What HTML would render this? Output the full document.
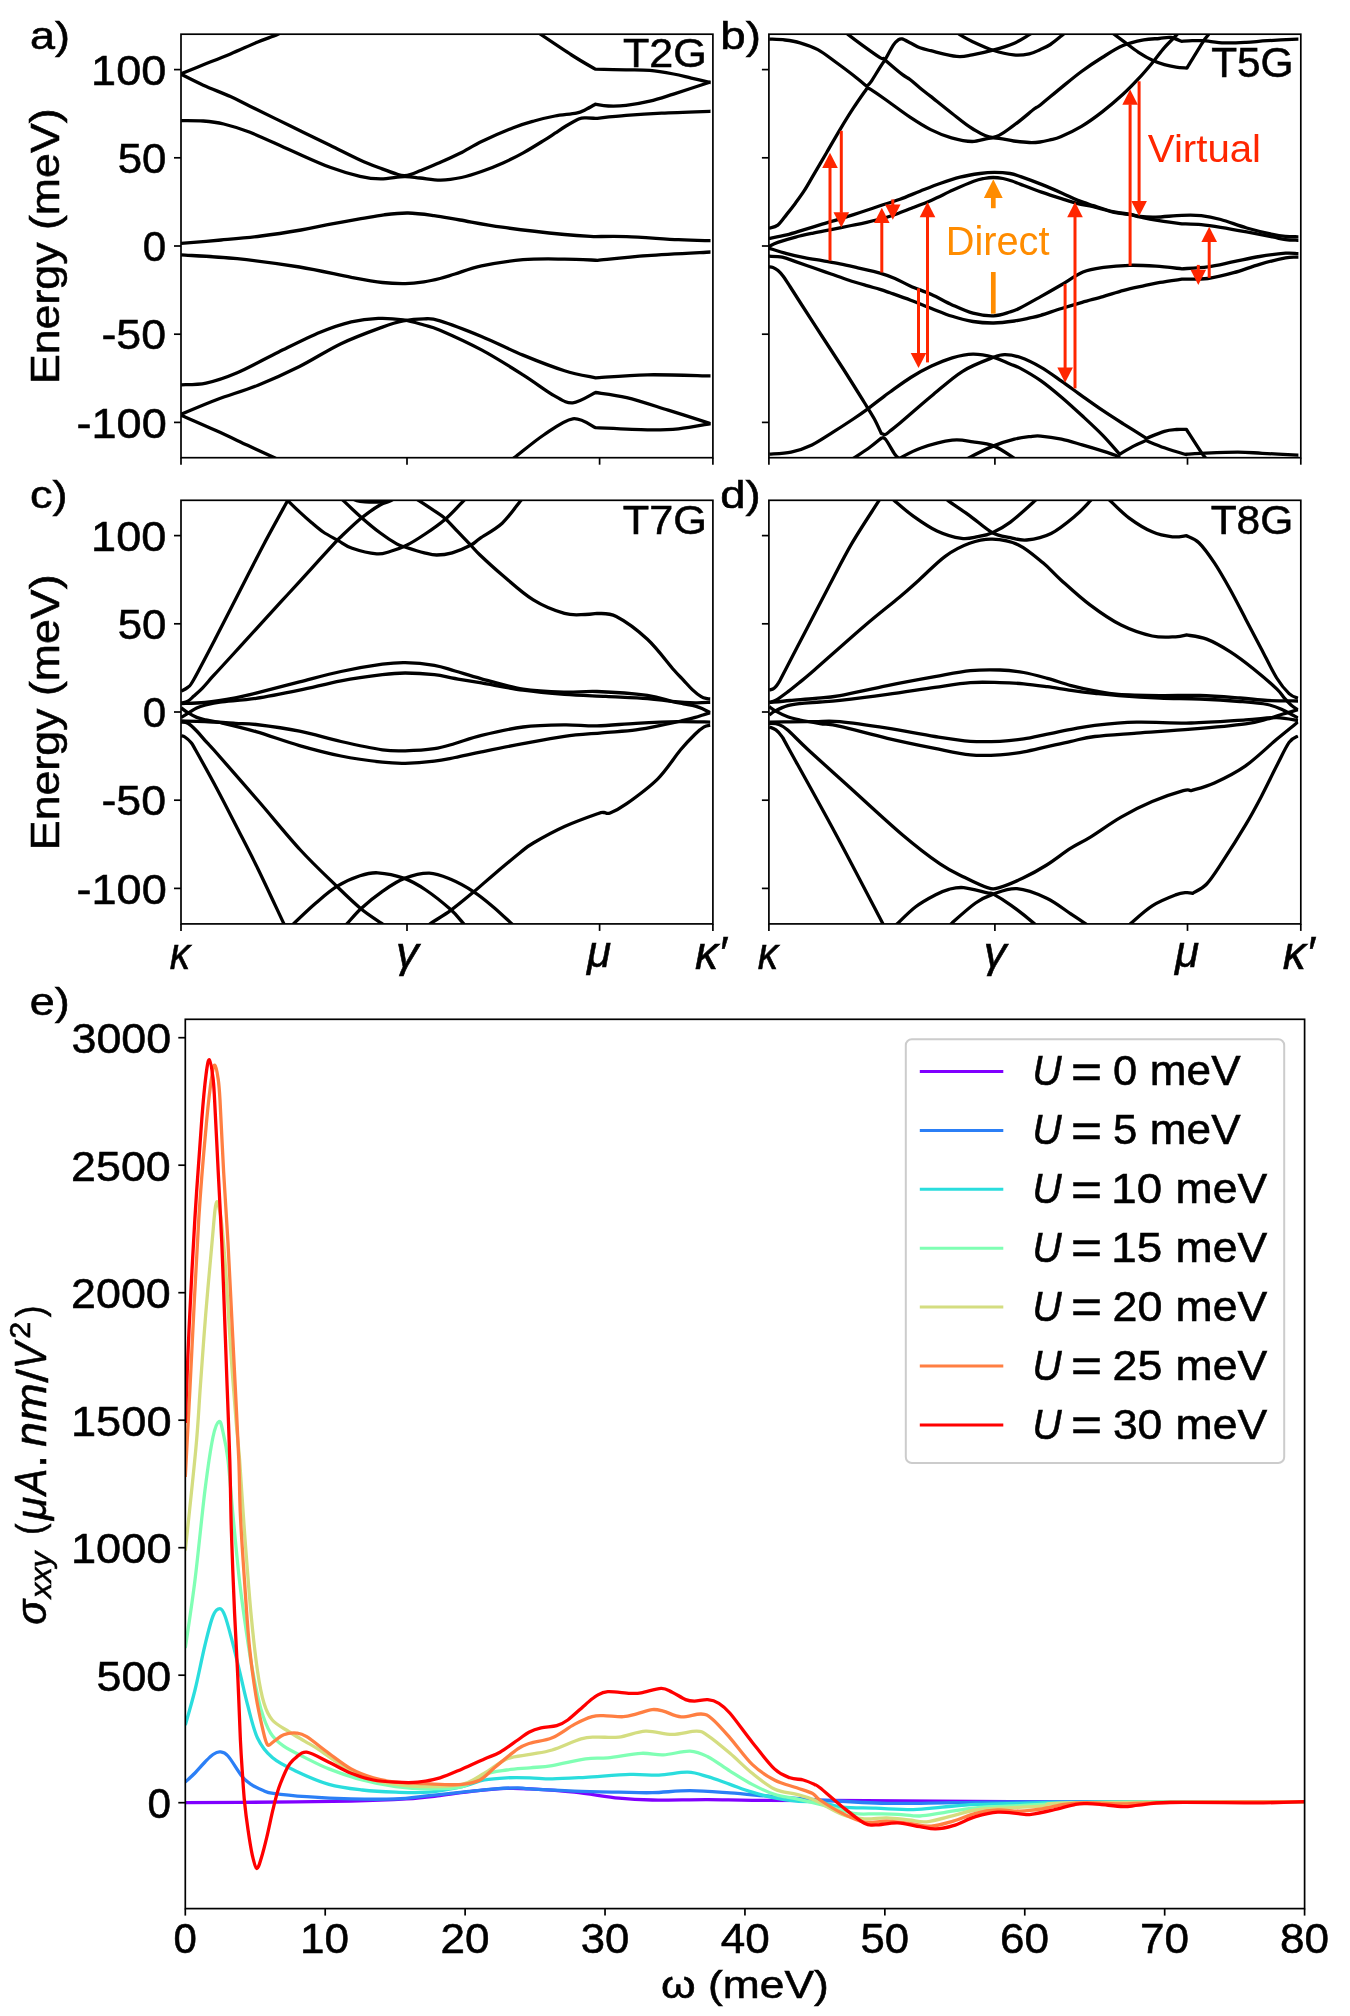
<!DOCTYPE html><html><head><meta charset="utf-8"><style>html,body{margin:0;padding:0;background:#fff;}svg{display:block;will-change:transform;font-family:"Liberation Sans",sans-serif;}</style></head><body><svg width="1350" height="2016" viewBox="0 0 1350 2016"><defs><clipPath id="ca"><rect x="181" y="34.2" width="529.5" height="423.5"/></clipPath><clipPath id="cb"><rect x="768.9" y="34.2" width="529.5" height="423.5"/></clipPath><clipPath id="cc"><rect x="181" y="500.3" width="529.5" height="423.6"/></clipPath><clipPath id="cd"><rect x="768.9" y="500.3" width="529.5" height="423.6"/></clipPath><clipPath id="ce"><rect x="185.3" y="1019.3" width="1119.3" height="889.3"/></clipPath></defs><g clip-path="url(#ca)" fill="none" stroke="#000" stroke-width="3.3" stroke-linejoin="round" stroke-linecap="butt"><path d="M181.2,73.6C184.88,72.13 195.08,68.08 203.3,64.8C211.52,61.52 221.42,57.7 230.5,53.9C239.58,50.1 249.97,45.23 257.8,42C265.63,38.77 272.13,36.83 277.5,34.5C282.87,32.17 287.92,29.08 290,28"/><path d="M181.2,74.3C184.88,76.12 195.08,81.48 203.3,85.2C211.52,88.92 222.72,93.1 230.5,96.6C238.28,100.1 240.08,101.33 250,106.2C259.92,111.07 276.67,119.28 290,125.8C303.33,132.32 318.33,139.6 330,145.3C341.67,151 351.3,156.07 360,160C368.7,163.93 375.87,166.48 382.2,168.9C388.53,171.32 394.3,173.38 398,174.5C401.7,175.62 402.23,175.63 404.4,175.6C406.57,175.57 408.4,175.1 411,174.3C413.6,173.5 415.17,172.77 420,170.8C424.83,168.83 433.33,165.42 440,162.5C446.67,159.58 452.97,156.85 460,153.3C467.03,149.75 473.32,145.47 482.2,141.2C491.08,136.93 504.65,131.07 513.3,127.7C521.95,124.33 527.15,122.95 534.1,121C541.05,119.05 547.97,117.32 555,116C562.03,114.68 571.17,114.18 576.3,113.1C581.43,112.02 582.63,110.98 585.8,109.5C588.97,108.02 593.72,105.08 595.3,104.2C597.47,104.5 603.17,105.8 608.3,106C613.43,106.2 619.18,106.2 626.1,105.4C633.02,104.6 641.9,103.08 649.8,101.2C657.7,99.32 663.52,97.25 673.5,94.1C683.48,90.95 702.62,84.57 709.7,82.3C716.78,80.03 714.95,80.8 716,80.5"/><path d="M181.2,120.6C184.88,120.67 196.22,120.43 203.3,121C210.38,121.57 215.92,122.12 223.7,124C231.48,125.88 238.95,127.97 250,132.3C261.05,136.63 276.67,144.17 290,150C303.33,155.83 318.33,162.92 330,167.3C341.67,171.68 351.55,174.37 360,176.3C368.45,178.23 373.3,178.85 380.7,178.9C388.1,178.95 397.85,176.75 404.4,176.6C410.95,176.45 413.95,177.42 420,178C426.05,178.58 433.78,180.18 440.7,180.1C447.62,180.02 454.58,178.97 461.5,177.5C468.42,176.03 475.28,173.72 482.2,171.3C489.12,168.88 496.08,166.12 503,163C509.92,159.88 516.8,156.42 523.7,152.6C530.6,148.78 539.18,143.33 544.4,140.1C549.62,136.87 551.4,135.55 555,133.2C558.6,130.85 562.05,128.37 566,126C569.95,123.63 575.4,120.37 578.7,119C582,117.63 583.03,117.9 585.8,117.8C588.57,117.7 593.72,118.3 595.3,118.4C600.43,117.9 615.03,116.28 626.1,115.4C637.17,114.52 647.77,113.78 661.7,113.1C675.63,112.42 700.65,111.62 709.7,111.3C718.75,110.98 714.95,111.22 716,111.2"/><path d="M530,27.2C536.93,31.83 560.72,48 571.6,55C582.48,62 591.35,66.83 595.3,69.2C600.43,69.3 617.02,69.6 626.1,69.8C635.18,70 641.9,69.7 649.8,70.4C657.7,71.1 666.58,72.72 673.5,74C680.42,75.28 685.27,76.72 691.3,78.1C697.33,79.48 705.58,81.35 709.7,82.3C713.82,83.25 714.95,83.55 716,83.8"/><path d="M181,243.3C187.67,242.75 207.67,241.22 221,240C234.33,238.78 247.67,237.67 261,236C274.33,234.33 289.88,231.88 301,230C312.12,228.12 317.7,226.58 327.7,224.7C337.7,222.82 351.62,220.35 361,218.7C370.38,217.05 376.15,215.75 384,214.8C391.85,213.85 399.77,212.87 408.1,213C416.43,213.13 425.35,214.43 434,215.6C442.65,216.77 448.63,218.07 460,220C471.37,221.93 484.78,224.78 502.2,227.2C519.62,229.62 548.93,232.93 564.5,234.5C580.07,236.07 590.42,236.25 595.6,236.6C600.78,236.6 612.88,236.08 626.7,236.6C640.52,237.12 664.5,239.02 678.5,239.7C692.5,240.38 704.45,240.52 710.7,240.7C716.95,240.88 715.12,240.78 716,240.8"/><path d="M181.2,254.9C190.53,255.53 217.48,256.68 237.2,258.7C256.92,260.72 280.48,263.9 299.5,267C318.52,270.1 337.48,274.72 351.3,277.3C365.12,279.88 373.42,281.45 382.4,282.5C391.38,283.55 398.28,283.7 405.2,283.6C412.12,283.5 418.1,282.75 423.9,281.9C429.7,281.05 434.82,279.82 440,278.5C445.18,277.18 448.08,276.1 455,274C461.92,271.9 470.17,268.28 481.5,265.9C492.83,263.52 509.17,260.83 523,259.7C536.83,258.57 552.07,259 564.5,259.1C576.93,259.2 592.08,260.1 597.6,260.3C605.9,259.52 628.55,256.98 647.4,255.6C666.25,254.22 699.27,252.63 710.7,252C722.13,251.37 715.12,251.83 716,251.8"/><path d="M181.2,384.8C185.35,384.52 196.77,385.1 206.1,383.1C215.43,381.1 225.1,377.98 237.2,372.8C249.3,367.62 264.87,358.75 278.7,352C292.53,345.25 308.1,337.32 320.2,332.3C332.3,327.28 341.62,324.22 351.3,321.9C360.98,319.58 369.65,318.73 378.3,318.4C386.95,318.07 395.6,318.8 403.2,319.9C410.8,321 417.77,323.28 423.9,325C430.03,326.72 430.4,326.05 440,330.2C449.6,334.35 467.67,342.47 481.5,349.9C495.33,357.33 510.9,367.18 523,374.8C535.1,382.42 545.8,390.93 554.1,395.6C562.4,400.27 565.88,403.32 572.8,402.8C579.72,402.28 591.8,394.22 595.6,392.5C600.78,393.35 614.6,394.67 626.7,397.6C638.8,400.53 654.2,405.77 668.2,410.1C682.2,414.43 702.73,421.07 710.7,423.6C718.67,426.13 715.12,425.02 716,425.3"/><path d="M181.2,414.2C187.08,411.78 203.7,404.53 216.5,399.7C229.3,394.87 244.17,390.73 258,385.2C271.83,379.67 285.67,373.42 299.5,366.5C313.33,359.58 327.18,350.27 341,343.7C354.82,337.13 372.03,330.9 382.4,327.1C392.77,323.3 396.28,322.28 403.2,320.9C410.12,319.52 417.77,318.8 423.9,318.8C430.03,318.8 430.4,317.95 440,320.9C449.6,323.85 467.67,330.8 481.5,336.5C495.33,342.2 509.17,349.4 523,355.1C536.83,360.8 552.4,366.9 564.5,370.7C576.6,374.5 590.42,376.7 595.6,377.9C604.23,377.38 628.22,375.13 647.4,374.8C666.58,374.47 699.27,375.7 710.7,375.9C722.13,376.1 715.12,375.98 716,376"/><path d="M181.2,415.3C187.08,417.88 205.43,425.8 216.5,430.8C227.57,435.8 237.92,440.8 247.6,445.3C257.28,449.8 268.87,455.1 274.6,457.8C280.33,460.5 280.77,460.88 282,461.5"/><path d="M508,462C509.12,461.23 508.75,461.9 514.7,457.4C520.65,452.9 534.02,441.43 543.7,435C553.38,428.57 564.15,420.02 572.8,418.8C581.45,417.58 591.8,426.22 595.6,427.7C604.23,428.05 633.58,429.62 647.4,429.8C661.22,429.98 667.95,429.83 678.5,428.8C689.05,427.77 704.45,424.65 710.7,423.6C716.95,422.55 715.12,422.68 716,422.5"/></g><g clip-path="url(#cb)" fill="none" stroke="#000" stroke-width="3.3" stroke-linejoin="round" stroke-linecap="butt"><path d="M769.3,39.1C771.92,39.25 779.88,39.38 785,40C790.12,40.62 794.53,41.2 800,42.8C805.47,44.4 811.87,46.4 817.8,49.6C823.73,52.8 829.68,57.72 835.6,62C841.52,66.28 848.12,71.25 853.3,75.3C858.48,79.35 864.47,84.47 866.7,86.3C867.43,85.52 868.88,84.77 871.1,81.6C873.32,78.43 877.63,71.02 880,67.3C882.37,63.58 883.08,63 885.3,59.3C887.52,55.6 891.18,48.28 893.3,45.1C895.42,41.92 896.55,41.23 898,40.2C899.45,39.17 899.82,38.38 902,38.9C904.18,39.42 908.1,41.82 911.1,43.3C914.1,44.78 916.73,46.57 920,47.8C923.27,49.03 924.58,49.27 930.7,50.7C936.82,52.13 949.78,55.7 956.7,56.4C963.62,57.1 966.15,55.93 972.2,54.9C978.25,53.87 986.08,52.1 993,50.2C999.92,48.3 1007.65,46.08 1013.7,43.5C1019.75,40.92 1025.75,36.78 1029.3,34.7C1032.85,32.62 1034.05,31.62 1035,31"/><path d="M768.9,228.2C770.38,227.68 774.83,227.4 777.8,225.1C780.77,222.8 783.73,218.1 786.7,214.4C789.67,210.7 792.65,206.9 795.6,202.9C798.55,198.9 801.45,195 804.4,190.4C807.35,185.8 809.58,181.62 813.3,175.3C817.02,168.98 822.25,160.12 826.7,152.5C831.15,144.88 835.57,136.98 840,129.6C844.43,122.22 848.85,115.02 853.3,108.2C857.75,101.38 864.47,91.95 866.7,88.7C867.43,88.85 867.4,87.38 871.1,89.6C874.8,91.82 882.42,97.42 888.9,102C895.38,106.58 903.03,112.5 910,117.1C916.97,121.7 923.78,126.13 930.7,129.6C937.62,133.07 944.58,135.92 951.5,137.9C958.42,139.88 965.28,141.5 972.2,141.5C979.12,141.5 986.08,137.98 993,137.9C999.92,137.82 1007.65,140.23 1013.7,141C1019.75,141.77 1024.92,142.33 1029.3,142.5C1033.68,142.67 1036.55,142.43 1040,142C1043.45,141.57 1046.55,140.77 1050,139.9C1053.45,139.03 1055.45,139.05 1060.7,136.8C1065.95,134.55 1074.58,130.55 1081.5,126.4C1088.42,122.25 1095.28,117.25 1102.2,111.9C1109.12,106.55 1116.95,99.83 1123,94.3C1129.05,88.77 1133.67,83.88 1138.5,78.7C1143.33,73.52 1147.68,68.38 1152,63.2C1156.32,58.02 1160.25,52.35 1164.4,47.6C1168.55,42.85 1174.3,37.47 1176.9,34.7C1179.5,31.93 1179.48,31.62 1180,31"/><path d="M843,30C843.83,30.73 844.8,31.88 848,34.4C851.2,36.92 856.87,41.23 862.2,45.1C867.53,48.97 876.37,55.35 880,57.6C883.63,59.85 883.33,58.43 884,58.6C884.22,58.87 882.27,57.57 885.3,60.2C888.33,62.83 898.08,71.18 902.2,74.4C906.32,77.62 907.03,77.23 910,79.5C912.97,81.77 916.55,85.18 920,88C923.45,90.82 925.45,92.23 930.7,96.4C935.95,100.57 944.58,107.65 951.5,113C958.42,118.35 965.28,124.45 972.2,128.5C979.12,132.55 986.08,137.82 993,137.3C999.92,136.78 1006.8,130.15 1013.7,125.4C1020.6,120.65 1030.02,112.17 1034.4,108.8C1038.78,105.43 1035.62,108.65 1040,105.2C1044.38,101.75 1053.78,93.72 1060.7,88.1C1067.62,82.48 1074.58,76.6 1081.5,71.5C1088.42,66.4 1095.28,61.82 1102.2,57.5C1109.12,53.18 1116.08,48.53 1123,45.6C1129.92,42.67 1137.65,41.08 1143.7,39.9C1149.75,38.72 1154.8,38.9 1159.3,38.5C1163.8,38.1 1167,37.03 1170.7,37.5C1174.4,37.97 1179.7,40.67 1181.5,41.3C1183.28,41.2 1188.62,40.8 1192.2,40.7C1195.78,40.6 1197.63,40.33 1203,40.7C1208.37,41.07 1217.23,42.62 1224.4,42.9C1231.57,43.18 1238.83,42.77 1246,42.4C1253.17,42.03 1258.82,41.25 1267.4,40.7C1275.98,40.15 1291.4,39.38 1297.5,39.1C1303.6,38.82 1302.92,39.02 1304,39"/><path d="M955,30C955.8,30.78 956.93,32.8 959.8,34.7C962.67,36.6 966.67,38.82 972.2,41.4C977.73,43.98 986.08,47.95 993,50.2C999.92,52.45 1007.65,54.28 1013.7,54.9C1019.75,55.52 1024.92,54.77 1029.3,53.9C1033.68,53.03 1036.48,51.27 1040,49.7C1043.52,48.13 1046.6,47 1050.4,44.5C1054.2,42 1060.03,36.95 1062.8,34.7C1065.57,32.45 1066.3,31.62 1067,31"/><path d="M1110,31C1110.78,31.62 1112.2,32.8 1114.7,34.7C1117.2,36.6 1121.03,39.47 1125,42.4C1128.97,45.33 1133.83,49.27 1138.5,52.3C1143.17,55.33 1148.68,58.53 1153,60.6C1157.32,62.67 1160.55,63.62 1164.4,64.7C1168.25,65.78 1172.35,66.53 1176.1,67.1C1179.85,67.67 1185.1,67.93 1186.9,68.1C1189.58,63.72 1199.43,47.35 1203,41.8C1206.57,36.25 1206.97,36.77 1208.3,34.8C1209.63,32.83 1210.55,30.8 1211,30"/><path d="M768.9,238.4C771.87,237.82 780.78,236.37 786.7,234.9C792.62,233.43 798.48,231.38 804.4,229.6C810.32,227.82 816.27,225.98 822.2,224.2C828.13,222.42 833.7,220.85 840,218.9C846.3,216.95 853.33,214.68 860,212.5C866.67,210.32 873.33,208.02 880,205.8C886.67,203.58 893.33,201.63 900,199.2C906.67,196.77 913.33,193.82 920,191.2C926.67,188.58 933.33,185.83 940,183.5C946.67,181.17 953.33,178.87 960,177.2C966.67,175.53 974.27,174.3 980,173.5C985.73,172.7 989.4,172.4 994.4,172.4C999.4,172.4 1005.62,172.8 1010,173.5C1014.38,174.2 1015.45,174.78 1020.7,176.6C1025.95,178.42 1034.58,181.63 1041.5,184.4C1048.42,187.17 1056.15,190.53 1062.2,193.2C1068.25,195.87 1072.62,198.33 1077.8,200.4C1082.98,202.47 1087.25,203.68 1093.3,205.6C1099.35,207.52 1107.98,210.47 1114.1,211.9C1120.22,213.33 1125.68,213.43 1130,214.2C1134.32,214.97 1135.68,216 1140,216.5C1144.32,217 1148.92,217.4 1155.9,217.2C1162.88,217 1174.33,215.57 1181.9,215.3C1189.47,215.03 1194.83,214.9 1201.3,215.6C1207.77,216.3 1213.13,217.43 1220.7,219.5C1228.27,221.57 1238.05,225.52 1246.7,228C1255.35,230.48 1266.12,233 1272.6,234.4C1279.08,235.8 1281.38,236 1285.6,236.4C1289.82,236.8 1294.83,236.73 1297.9,236.8C1300.97,236.87 1302.98,236.8 1304,236.8"/><path d="M768.9,246.4C770.38,245.73 773.35,243.95 777.8,242.4C782.25,240.85 789.68,238.65 795.6,237.1C801.52,235.55 807.38,234.35 813.3,233.1C819.22,231.85 825.17,230.78 831.1,229.6C837.03,228.42 842.97,227.2 848.9,226C854.83,224.8 859.73,224.07 866.7,222.4C873.67,220.73 883.23,218.37 890.7,216C898.17,213.63 904.58,210.88 911.5,208.2C918.42,205.52 925.28,202.92 932.2,199.9C939.12,196.88 946.08,193.2 953,190.1C959.92,187 968.53,183.23 973.7,181.3C978.87,179.37 980.73,179.13 984,178.5C987.27,177.87 990.13,177.5 993.3,177.5C996.47,177.5 999.88,177.92 1003,178.5C1006.12,179.08 1009.05,180.02 1012,181C1014.95,181.98 1015.78,182.55 1020.7,184.4C1025.62,186.25 1034.58,189.68 1041.5,192.1C1048.42,194.52 1056.15,196.98 1062.2,198.9C1068.25,200.82 1072.62,202.3 1077.8,203.6C1082.98,204.9 1087.25,205.23 1093.3,206.7C1099.35,208.17 1107.98,211.08 1114.1,212.4C1120.22,213.72 1125.68,213.83 1130,214.6C1134.32,215.37 1135.68,216.07 1140,217C1144.32,217.93 1148.92,219.07 1155.9,220.2C1162.88,221.33 1177.57,223.2 1181.9,223.8C1185.13,223.95 1194.83,224.12 1201.3,224.7C1207.77,225.28 1213.13,226.1 1220.7,227.3C1228.27,228.5 1238.05,230.28 1246.7,231.9C1255.35,233.52 1266.12,235.72 1272.6,237C1279.08,238.28 1281.38,239.05 1285.6,239.6C1289.82,240.15 1294.83,240.17 1297.9,240.3C1300.97,240.43 1302.98,240.38 1304,240.4"/><path d="M768.9,248.2C771.87,249.1 780.78,252.03 786.7,253.6C792.62,255.17 798.48,256.42 804.4,257.6C810.32,258.78 816.27,259.67 822.2,260.7C828.13,261.73 834.07,262.62 840,263.8C845.93,264.98 851.13,266.25 857.8,267.8C864.47,269.35 873.8,271.32 880,273.1C886.2,274.88 889.88,276.32 895,278.5C900.12,280.68 904.62,283.53 910.7,286.2C916.78,288.87 924.58,291.38 931.5,294.5C938.42,297.62 945.28,301.78 952.2,304.9C959.12,308.02 966.08,311.38 973,313.2C979.92,315.02 987.53,316 993.7,315.8C999.87,315.6 1005.62,313.3 1010,312C1014.38,310.7 1014.88,310.57 1020,308C1025.12,305.43 1033.78,300.48 1040.7,296.6C1047.62,292.72 1054.45,288.8 1061.5,284.7C1068.55,280.6 1075.97,274.9 1083,272C1090.03,269.1 1095.93,268.42 1103.7,267.3C1111.47,266.18 1120.9,265.48 1129.6,265.3C1138.3,265.12 1147.18,265.62 1155.9,266.2C1164.62,266.78 1177.57,268.37 1181.9,268.8C1186.22,268.48 1199.17,268.08 1207.8,266.9C1216.43,265.72 1225.07,263.43 1233.7,261.7C1242.33,259.97 1250.95,257.92 1259.6,256.5C1268.25,255.08 1279.22,253.68 1285.6,253.2C1291.98,252.72 1294.83,253.53 1297.9,253.6C1300.97,253.67 1302.98,253.6 1304,253.6"/><path d="M768.9,256.2C771.12,256.35 777.75,256.2 782.2,257.1C786.65,258 790.42,259.82 795.6,261.6C800.78,263.38 807.38,265.73 813.3,267.8C819.22,269.87 825.17,271.93 831.1,274C837.03,276.07 842.97,278.27 848.9,280.2C854.83,282.13 861.52,284.07 866.7,285.6C871.88,287.13 876.12,288.2 880,289.4C883.88,290.6 884.88,291 890,292.8C895.12,294.6 903.78,297.58 910.7,300.2C917.62,302.82 924.58,305.82 931.5,308.5C938.42,311.18 945.28,314.13 952.2,316.3C959.12,318.47 966.08,320.38 973,321.5C979.92,322.62 986.8,323.08 993.7,323C1000.6,322.92 1008.35,321.85 1014.4,321C1020.45,320.15 1025.62,318.85 1030,317.9C1034.38,316.95 1035.45,316.87 1040.7,315.3C1045.95,313.73 1054.58,310.67 1061.5,308.5C1068.42,306.33 1075.28,304.28 1082.2,302.3C1089.12,300.32 1096.08,298.58 1103,296.6C1109.92,294.62 1116.8,292.22 1123.7,290.4C1130.6,288.58 1138.35,287.03 1144.4,285.7C1150.45,284.37 1153.75,283.48 1160,282.4C1166.25,281.32 1178.25,279.73 1181.9,279.2C1186.22,279.08 1199.17,279.58 1207.8,278.5C1216.43,277.42 1225.07,275.07 1233.7,272.7C1242.33,270.33 1250.95,266.78 1259.6,264.3C1268.25,261.82 1279.22,259 1285.6,257.8C1291.98,256.6 1294.83,257.23 1297.9,257.1C1300.97,256.97 1302.98,257.02 1304,257"/><path d="M768.9,266.9C769.58,267 771.48,266.9 773,267.5C774.52,268.1 776.33,269.08 778,270.5C779.67,271.92 781,273.33 783,276C785,278.67 786.92,281.75 790,286.5C793.08,291.25 796.13,296.17 801.5,304.5C806.87,312.83 815.28,325.83 822.2,336.5C829.12,347.17 836.08,357.67 843,368.5C849.92,379.33 858.52,393.17 863.7,401.5C868.88,409.83 871.17,413.17 874.1,418.5C877.03,423.83 880.1,431 881.3,433.5C882,433.67 884.05,434.92 885.5,434.5C886.95,434.08 887.58,432.9 890,431C892.42,429.1 893.08,428.92 900,423.1C906.92,417.28 921.07,404.73 931.5,396.1C941.93,387.47 952.23,377.77 962.6,371.3C972.97,364.83 986.62,360.07 993.7,357.3C1000.78,354.53 1000.72,354.7 1005.1,354.7C1009.48,354.7 1014.07,355.23 1020,357.3C1025.93,359.37 1033.78,363.13 1040.7,367.1C1047.62,371.07 1054.58,376.27 1061.5,381.1C1068.42,385.93 1075.28,391.17 1082.2,396.1C1089.12,401.03 1096.08,406.03 1103,410.7C1109.92,415.37 1116.45,419.5 1123.7,424.1C1130.95,428.7 1142.7,435.93 1146.5,438.3C1149.48,437.13 1159.37,432.77 1164.4,431.3C1169.43,429.83 1173.02,429.8 1176.7,429.5C1180.38,429.2 1184.87,429.5 1186.5,429.5C1188.93,433.27 1198.05,447.52 1201.1,452.1C1204.15,456.68 1203.82,455.6 1204.8,457C1205.78,458.4 1206.63,459.92 1207,460.5"/><path d="M769.3,454.2C772.93,453.85 784,453.65 791.1,452.1C798.2,450.55 804.98,448.18 811.9,444.9C818.82,441.62 825.7,436.72 832.6,432.4C839.5,428.08 847.6,422.8 853.3,419C859,415.2 861.62,413.42 866.8,409.6C871.98,405.78 880.53,399.03 884.4,396.1C888.27,393.17 885.62,395.1 890,392C894.38,388.9 903.78,381.82 910.7,377.5C917.62,373.18 924.58,369.38 931.5,366.1C938.42,362.82 945.28,359.8 952.2,357.8C959.12,355.8 966.08,354.18 973,354.1C979.92,354.02 987.53,355.65 993.7,357.3C999.87,358.95 1005.62,362.2 1010,364C1014.38,365.8 1014.88,365.33 1020,368.1C1025.12,370.87 1033.78,375.75 1040.7,380.6C1047.62,385.45 1054.58,391.33 1061.5,397.2C1068.42,403.07 1075.28,409.4 1082.2,415.8C1089.12,422.2 1096.77,429.2 1103,435.6C1109.23,442 1116.83,451.1 1119.6,454.2C1122.02,452.82 1129.7,448.18 1134.1,445.9C1138.5,443.62 1144.02,441.4 1146,440.5C1149.07,441.72 1158.07,445.55 1164.4,447.8C1170.73,450.05 1180.32,452.93 1184,454C1187.68,455.07 1186.08,454.17 1186.5,454.2C1188.93,454.05 1192.55,453.65 1201.1,453.3C1209.65,452.95 1227.62,452.1 1237.8,452.1C1247.98,452.1 1252.22,452.78 1262.2,453.3C1272.18,453.82 1290.73,454.87 1297.7,455.2C1304.67,455.53 1302.95,455.28 1304,455.3"/><path d="M850,461C850.55,460.57 850.15,460.57 853.3,458.4C856.45,456.23 864.23,451.38 868.9,448C873.57,444.62 879.23,439.75 881.3,438.1C882,438.28 883.25,436.52 885.5,439.2C887.75,441.88 892.55,451 894.8,454.2C897.05,457.4 897.97,457.27 899,458.4C900.03,459.53 900.67,460.57 901,461"/><path d="M896,461C896.55,460.57 895.12,460.57 899.3,458.4C903.48,456.23 912.28,451.03 921.1,448C929.92,444.97 943.55,441.23 952.2,440.2C960.85,439.17 966.08,440.85 973,441.8C979.92,442.75 986.8,443.13 993.7,445.9C1000.6,448.67 1010.52,455.88 1014.4,458.4C1018.28,460.92 1016.57,460.57 1017,461"/><path d="M965,461C965.47,460.57 963.02,460.92 967.8,458.4C972.58,455.88 985.93,449.1 993.7,445.9C1001.47,442.7 1008.35,440.75 1014.4,439.2C1020.45,437.65 1025.62,437.12 1030,436.6C1034.38,436.08 1035.45,435.67 1040.7,436.1C1045.95,436.53 1054.58,437.73 1061.5,439.2C1068.42,440.67 1075.28,442.92 1082.2,444.9C1089.12,446.88 1097.47,449.37 1103,451.1C1108.53,452.83 1112.57,454.15 1115.4,455.3C1118.23,456.45 1119.23,457.55 1120,458"/></g><g clip-path="url(#cc)" fill="none" stroke="#000" stroke-width="3.3" stroke-linejoin="round" stroke-linecap="butt"><path d="M181.3,691C182.4,690.37 185.82,689.12 187.9,687.2C189.98,685.28 189.02,687.98 193.8,679.5C198.58,671.02 208.85,651.2 216.6,636.3C224.35,621.4 232.4,605.5 240.3,590.1C248.2,574.7 256.1,558.83 264,543.9C271.9,528.97 283.75,507.73 287.7,500.5C289.67,502.4 295.55,508.23 299.5,511.9C303.45,515.57 307.45,519.15 311.4,522.5C315.35,525.85 318.72,528.98 323.2,532C327.68,535.02 333.47,537.88 338.3,540.6C343.13,543.32 345.8,546.08 352.2,548.3C358.6,550.52 370.4,553.37 376.7,553.9C383,554.43 385.18,552.85 390,551.5C394.82,550.15 399.87,548.63 405.6,545.8C411.33,542.97 417.73,538.98 424.4,534.5C431.07,530.02 439.12,524.47 445.6,518.9C452.08,513.33 459.9,504.58 463.3,501.1C466.7,497.62 465.55,498.52 466,498"/><path d="M340,497C340.55,497.6 339.78,497.23 343.3,500.6C346.82,503.97 354.98,511.83 361.1,517.2C367.22,522.57 374.07,528.35 380,532.8C385.93,537.25 392.43,541.5 396.7,543.9C400.97,546.3 400.98,545.72 405.6,547.2C410.22,548.68 419.22,551.5 424.4,552.8C429.58,554.1 432.07,555 436.7,555C441.33,555 446.47,554.47 452.2,552.8C457.93,551.13 466.47,547.42 471.1,545C475.73,542.58 474.82,541.93 480,538.3C485.18,534.67 495.38,529.52 502.2,523.2C509.02,516.88 517.27,504.77 520.9,500.4C524.53,496.03 523.48,497.57 524,497"/><path d="M350,498C351.12,498.43 354.2,499.97 356.7,500.6C359.2,501.23 362.05,501.53 365,501.8C367.95,502.07 371.35,502.28 374.4,502.2C377.45,502.12 380.53,501.75 383.3,501.3C386.07,500.85 389.72,499.8 391,499.5"/><path d="M181.3,703.2C182.4,702.85 185.82,702.28 187.9,701.1C189.98,699.92 191.33,698.32 193.8,696.1C196.27,693.88 199.73,690.87 202.7,687.8C205.67,684.73 208.93,680.67 211.6,677.7C214.27,674.73 213.92,675.22 218.7,670C223.48,664.78 232.75,654.67 240.3,646.4C247.85,638.13 256.1,629.05 264,620.4C271.9,611.75 279.8,603.13 287.7,594.5C295.6,585.87 303.5,577.23 311.4,568.6C319.3,559.97 330.17,548.02 335.1,542.7C340.03,537.38 336.67,540.77 341,536.7C345.33,532.63 354.6,523.58 361.1,518.3C367.6,513.02 375,507.95 380,505C385,502.05 386.93,502.77 391.1,500.6C395.27,498.43 400.37,492 405,492C409.63,492 413.8,497.32 418.9,500.6C424,503.88 431.15,508.65 435.6,511.7C440.05,514.75 441.9,515.57 445.6,518.9C449.3,522.23 453.73,527.45 457.8,531.7C461.87,535.95 466.3,540.52 470,544.4C473.7,548.28 474.63,549.9 480,555C485.37,560.1 493.32,567.52 502.2,575C511.08,582.48 522.92,593.5 533.3,599.9C543.68,606.3 555.85,610.97 564.5,613.4C573.15,615.83 579.78,614.5 585.2,614.5C590.62,614.5 595.03,613.58 597,613.4C600.22,613.92 607.9,612.18 616.3,616.5C624.7,620.82 637.8,630.38 647.4,639.3C657,648.22 667.9,663.2 673.9,670C679.9,676.8 680.33,676.83 683.4,680.1C686.47,683.37 689.33,686.83 692.3,689.6C695.27,692.37 698.73,695.18 701.2,696.7C703.67,698.22 705.57,698.32 707.1,698.7C708.63,699.08 709.85,698.95 710.4,699"/><path d="M181.3,703.5C185.25,703.33 196,703.43 205,702.5C214,701.57 226.8,699.47 235.3,697.9C243.8,696.33 245.3,695.77 256,693.1C266.7,690.43 285.33,685.5 299.5,681.9C313.67,678.3 327.18,674.45 341,671.5C354.82,668.55 371.7,665.68 382.4,664.2C393.1,662.72 396.55,662.42 405.2,662.6C413.85,662.78 426,663.9 434.3,665.3C442.6,666.7 447.13,668.75 455,671C462.87,673.25 470.17,675.78 481.5,678.8C492.83,681.82 509.17,686.87 523,689.1C536.83,691.33 552.17,691.8 564.5,692.2C576.83,692.6 583.18,690.97 597,691.5C610.82,692.03 634.97,693.75 647.4,695.4C659.83,697.05 665.6,700 671.6,701.4C677.6,702.8 679.45,703.02 683.4,703.8C687.35,704.58 692.03,705.23 695.3,706.1C698.57,706.97 700.48,707.9 703,709C705.52,710.1 709.17,712.08 710.4,712.7"/><path d="M181.3,717.4C182.4,716.72 185.33,714.88 187.9,713.3C190.47,711.72 193.75,709.28 196.7,707.9C199.65,706.52 201.72,705.98 205.6,705C209.48,704.02 211.6,703.1 220,702C228.4,700.9 242.75,700.37 256,698.4C269.25,696.43 285.33,693.13 299.5,690.2C313.67,687.27 327.18,683.4 341,680.8C354.82,678.2 371.7,675.9 382.4,674.6C393.1,673.3 396.55,673 405.2,673C413.85,673 426,673.68 434.3,674.6C442.6,675.52 447.13,677.12 455,678.5C462.87,679.88 470.17,680.95 481.5,682.9C492.83,684.85 509.17,688.3 523,690.2C536.83,692.1 550.68,693.27 564.5,694.3C578.32,695.33 592.08,695.7 605.9,696.4C619.72,697.1 636.45,697.67 647.4,698.5C658.35,699.33 663.62,700.67 671.6,701.4C679.58,702.13 688.83,702.75 695.3,702.9C701.77,703.05 707.88,702.4 710.4,702.3"/><path d="M181.3,721C185.25,721.08 196,721.12 205,721.5C214,721.88 226.8,722.8 235.3,723.3C243.8,723.8 245.3,723.2 256,724.5C266.7,725.8 285.33,728.27 299.5,731.1C313.67,733.93 327.18,738.38 341,741.5C354.82,744.62 371.7,748.25 382.4,749.8C393.1,751.35 396.55,750.98 405.2,750.8C413.85,750.62 426,749.92 434.3,748.7C442.6,747.48 447.13,745.73 455,743.5C462.87,741.27 470.17,738.05 481.5,735.3C492.83,732.55 509.17,728.73 523,727C536.83,725.27 552.17,725.08 564.5,724.9C576.83,724.72 585.08,726.17 597,725.9C608.92,725.63 622.58,724.02 636,723.3C649.42,722.58 665.1,721.8 677.5,721.6C689.9,721.4 704.92,722.02 710.4,722.1"/><path d="M181.3,707.9C182.4,708.7 185.33,711.12 187.9,712.7C190.47,714.28 193.75,716.22 196.7,717.4C199.65,718.58 201.72,718.95 205.6,719.8C209.48,720.65 211.6,720.53 220,722.5C228.4,724.47 242.75,727.75 256,731.6C269.25,735.45 285.33,741.53 299.5,745.6C313.67,749.67 327.18,753.23 341,756C354.82,758.77 371.7,760.98 382.4,762.2C393.1,763.42 396.55,763.47 405.2,763.3C413.85,763.13 426,762.17 434.3,761.2C442.6,760.23 447.13,759.05 455,757.5C462.87,755.95 470.17,754.22 481.5,751.9C492.83,749.58 509.17,746.2 523,743.6C536.83,741 551.37,738.1 564.5,736.3C577.63,734.5 589.88,733.87 601.8,732.8C613.72,731.73 625.47,731.28 636,729.9C646.53,728.52 657.1,726.08 665,724.5C672.9,722.92 678.35,721.58 683.4,720.4C688.45,719.22 692.03,718.3 695.3,717.4C698.57,716.5 700.48,715.78 703,715C705.52,714.22 709.17,713.08 710.4,712.7"/><path d="M181.3,722.1C182.4,722.3 185.33,721.82 187.9,723.3C190.47,724.78 193.75,728.03 196.7,731C199.65,733.97 202.73,737.93 205.6,741.1C208.47,744.27 205.17,740.1 213.9,750C222.63,759.9 243.58,783.83 258,800.5C272.42,817.17 287.25,835.68 300.4,850C313.55,864.32 326.82,876.62 336.9,886.4C346.98,896.18 353.5,902.57 360.9,908.7C368.3,914.83 377.28,920.32 381.3,923.2C385.32,926.08 384.38,925.53 385,926"/><path d="M181.3,735.8C181.9,736 183.32,735.92 184.9,737C186.48,738.08 189.02,740.13 190.8,742.3C192.58,744.47 191.32,742.38 195.6,750C199.88,757.62 209.57,775 216.5,788C223.43,801 230.28,814.5 237.2,828C244.12,841.5 250.27,853.13 258,869C265.73,884.87 278.93,913.37 283.6,923.2C288.27,933.03 285.6,927.2 286,928"/><path d="M291,927C291.53,926.37 290.1,927.15 294.2,923.2C298.3,919.25 308.48,909.43 315.6,903.3C322.72,897.17 329.5,890.98 336.9,886.4C344.3,881.82 353.18,878.07 360,875.8C366.82,873.53 370.4,872.37 377.8,872.8C385.2,873.23 396.4,875.53 404.4,878.4C412.4,881.27 418.08,884.8 425.8,890C433.52,895.2 444.48,904.07 450.7,909.6C456.92,915.13 460.55,920.3 463.1,923.2C465.65,926.1 465.52,926.37 466,927"/><path d="M344,927C344.6,926.37 344.78,926.25 347.6,923.2C350.42,920.15 354.98,914.08 360.9,908.7C366.82,903.32 375.85,895.95 383.1,890.9C390.35,885.85 396.7,881.37 404.4,878.4C412.1,875.43 421.58,872.95 429.3,873.1C437.02,873.25 443.28,876.18 450.7,879.3C458.12,882.42 466.7,887.2 473.8,891.8C480.9,896.4 487.08,901.67 493.3,906.9C499.52,912.13 507.48,919.85 511.1,923.2C514.72,926.55 514.35,926.37 515,927"/><path d="M428,927C428.52,926.37 427.32,925.97 431.1,923.2C434.88,920.43 443.58,915.63 450.7,910.4C457.82,905.17 466.7,897.72 473.8,891.8C480.9,885.88 485.6,881.42 493.3,874.9C501,868.38 513.33,858.02 520,852.7C526.67,847.38 525.88,847.37 533.3,843C540.72,838.63 553.78,831.38 564.5,826.5C575.22,821.62 591.02,816.03 597.6,813.7C604.18,811.37 601.92,812.62 604,812.5C606.08,812.38 606.32,814.47 610.1,813C613.88,811.53 618.75,809.4 626.7,803.7C634.65,798 648.85,787.75 657.8,778.8C666.75,769.85 674.15,757.47 680.4,750C686.65,742.53 691.35,737.85 695.3,734C699.25,730.15 701.58,728.38 704.1,726.9C706.62,725.42 709.35,725.4 710.4,725.1"/></g><g clip-path="url(#cd)" fill="none" stroke="#000" stroke-width="3.3" stroke-linejoin="round" stroke-linecap="butt"><path d="M769.3,690.1C769.9,689.92 771.78,689.63 772.9,689C774.02,688.37 775.02,687.42 776,686.3C776.98,685.18 777.8,683.93 778.8,682.3C779.8,680.67 777.7,684.72 782,676.5C786.3,668.28 796.88,647.83 804.6,633C812.32,618.17 820.4,602.47 828.3,587.5C836.2,572.53 843.62,557.58 852,543.2C860.38,528.82 873.77,508.9 878.6,501.2C883.43,493.5 880.6,497.7 881,497"/><path d="M769.3,702.3C770.4,701.95 772.83,701.93 775.9,700.2C778.97,698.47 783.75,694.87 787.7,691.9C791.65,688.93 795.15,686.05 799.6,682.4C804.05,678.75 803.7,679.32 814.4,670C825.1,660.68 849.63,638.63 863.8,626.5C877.97,614.37 890.18,604.97 899.4,597.2C908.62,589.43 911.47,586.72 919.1,579.9C926.73,573.08 936.78,562.4 945.2,556.3C953.62,550.2 961.73,546.15 969.6,543.3C977.47,540.45 984.25,538.93 992.4,539.2C1000.55,539.47 1010.07,540.97 1018.5,544.9C1026.93,548.83 1035.93,556.97 1043,562.8C1050.07,568.63 1053.07,572.88 1060.9,579.9C1068.73,586.92 1079.97,597.37 1090,604.9C1100.03,612.43 1110.73,619.92 1121.1,625.1C1131.47,630.28 1143.12,634.05 1152.2,636C1161.28,637.95 1169.9,636.98 1175.6,636.8C1181.3,636.62 1184.6,635.22 1186.4,634.9C1189.78,635.6 1199.43,636.32 1206.7,639.1C1213.97,641.88 1222.23,646.67 1230,651.6C1237.77,656.53 1245.52,662.48 1253.3,668.7C1261.08,674.92 1271.52,683.98 1276.7,688.9C1281.88,693.82 1282.02,695.52 1284.4,698.2C1286.78,700.88 1288.73,703.03 1291,705C1293.27,706.97 1296.83,709.17 1298,710"/><path d="M891,497C891.62,497.65 891.1,497.8 894.7,500.9C898.3,504 905.55,510.58 912.6,515.6C919.65,520.62 928.85,527.2 937,531C945.15,534.8 954.7,537.45 961.5,538.4C968.3,539.35 972.65,537.65 977.8,536.7C982.95,535.75 986.97,535.13 992.4,532.7C997.83,530.27 1003.33,527.4 1010.4,522.1C1017.47,516.8 1030.2,505.08 1034.8,500.9C1039.4,496.72 1037.47,497.65 1038,497"/><path d="M945,497C945.57,497.65 944.3,497.8 948.4,500.9C952.5,504 962.27,510.3 969.6,515.6C976.93,520.9 985.6,529.03 992.4,532.7C999.2,536.37 1004.68,536.38 1010.4,537.6C1016.12,538.82 1019.92,540.68 1026.7,540C1033.48,539.32 1042.95,537.57 1051.1,533.5C1059.25,529.43 1069.08,521.03 1075.6,515.6C1082.12,510.17 1087.3,504 1090.2,500.9C1093.1,497.8 1092.53,497.65 1093,497"/><path d="M1107,497C1107.53,497.62 1106.55,497.23 1110.2,500.7C1113.85,504.17 1121.9,512.62 1128.9,517.8C1135.9,522.98 1144.95,528.63 1152.2,531.8C1159.45,534.97 1166.7,536.15 1172.4,536.8C1178.1,537.45 1184.07,535.88 1186.4,535.7C1188.48,536.87 1194.23,538.17 1198.9,542.7C1203.57,547.23 1209.22,555.13 1214.4,562.9C1219.58,570.67 1224.8,579.97 1230,589.3C1235.2,598.63 1240.42,609.05 1245.6,618.9C1250.78,628.75 1255.92,638.55 1261.1,648.4C1266.28,658.25 1272.03,670.47 1276.7,678C1281.37,685.53 1285.55,690.22 1289.1,693.6C1292.65,696.98 1296.52,697.52 1298,698.3"/><path d="M769.3,702.6C772.75,702.25 782.38,701.18 790,700.5C797.62,699.82 806.67,699.32 815,698.5C823.33,697.68 827.93,697.75 840,695.6C852.07,693.45 871.6,688.75 887.4,685.6C903.2,682.45 920.97,679.18 934.8,676.7C948.63,674.22 959.53,671.82 970.4,670.7C981.27,669.58 991.12,669.7 1000,670C1008.88,670.3 1015.8,671.1 1023.7,672.5C1031.6,673.9 1039.5,676.22 1047.4,678.4C1055.3,680.58 1063.2,683.52 1071.1,685.6C1079,687.68 1086.9,689.43 1094.8,690.9C1102.7,692.37 1107.63,693.62 1118.5,694.4C1129.37,695.18 1146.42,695.42 1160,695.6C1173.58,695.78 1186.67,695.1 1200,695.5C1213.33,695.9 1228.77,697.17 1240,698C1251.23,698.83 1257.73,700 1267.4,700.5C1277.07,701 1292.9,700.92 1298,701"/><path d="M769.3,715C770.3,714.32 772.23,712.47 775.3,710.9C778.37,709.33 783.58,706.83 787.7,705.6C791.82,704.37 794.62,704.1 800,703.5C805.38,702.9 813.33,702.52 820,702C826.67,701.48 828.77,701.67 840,700.4C851.23,699.13 871.6,696.58 887.4,694.4C903.2,692.22 920.97,689.27 934.8,687.3C948.63,685.33 959.53,683.38 970.4,682.6C981.27,681.82 991.12,682.4 1000,682.6C1008.88,682.8 1015.8,683.12 1023.7,683.8C1031.6,684.48 1039.5,685.62 1047.4,686.7C1055.3,687.78 1063.2,689.2 1071.1,690.3C1079,691.4 1086.9,692.42 1094.8,693.3C1102.7,694.18 1107.63,694.82 1118.5,695.6C1129.37,696.38 1146.42,697.43 1160,698C1173.58,698.57 1186.67,698.42 1200,699C1213.33,699.58 1228.77,700.58 1240,701.5C1251.23,702.42 1260.23,703.08 1267.4,704.5C1274.57,705.92 1277.9,707.75 1283,710C1288.1,712.25 1295.5,716.67 1298,718"/><path d="M769.3,722.1C772.75,722.05 782.38,721.88 790,721.8C797.62,721.72 806.67,721.62 815,721.6C823.33,721.58 827.93,720.6 840,721.7C852.07,722.8 871.6,725.73 887.4,728.2C903.2,730.67 920.97,734.32 934.8,736.5C948.63,738.68 959.53,740.5 970.4,741.3C981.27,742.1 991.12,741.7 1000,741.3C1008.88,740.9 1015.8,740.1 1023.7,738.9C1031.6,737.7 1039.5,735.68 1047.4,734.1C1055.3,732.52 1063.2,730.87 1071.1,729.4C1079,727.93 1083.87,726.5 1094.8,725.3C1105.73,724.1 1120.65,722.58 1136.7,722.2C1152.75,721.82 1172.95,723.38 1191.1,723C1209.25,722.62 1231.33,720.8 1245.6,719.9C1259.87,719 1267.97,717.47 1276.7,717.6C1285.43,717.73 1294.45,720.18 1298,720.7"/><path d="M769.3,706.7C770.3,707.4 772.23,709.22 775.3,710.9C778.37,712.58 783.58,715.28 787.7,716.8C791.82,718.32 794.62,718.88 800,720C805.38,721.12 813.33,722.43 820,723.5C826.67,724.57 828.77,723.93 840,726.4C851.23,728.87 871.6,734.63 887.4,738.3C903.2,741.97 920.97,745.63 934.8,748.4C948.63,751.17 959.53,753.82 970.4,754.9C981.27,755.98 991.12,755.4 1000,754.9C1008.88,754.4 1015.8,753.28 1023.7,751.9C1031.6,750.52 1039.5,748.37 1047.4,746.6C1055.3,744.83 1063.2,742.98 1071.1,741.3C1079,739.62 1083.87,737.87 1094.8,736.5C1105.73,735.13 1120.65,734.32 1136.7,733.1C1152.75,731.88 1172.95,730.75 1191.1,729.2C1209.25,727.65 1232.88,725.5 1245.6,723.8C1258.32,722.1 1261.17,720.63 1267.4,719C1273.63,717.37 1277.9,715.57 1283,714C1288.1,712.43 1295.5,710.33 1298,709.6"/><path d="M769.3,726.9C770.4,727.4 773.82,728.32 775.9,729.9C777.98,731.48 779.53,733.05 781.8,736.4C784.07,739.75 780.47,733.65 789.5,750C798.53,766.35 820.42,805.5 836,834.5C851.58,863.5 874.83,908.42 883,924C891.17,939.58 884.67,927.33 885,928"/><path d="M769.3,723.3C770.88,723.5 775.73,723.38 778.8,724.5C781.87,725.62 782.77,725.75 787.7,730C792.63,734.25 798.18,740.55 808.4,750C818.62,759.45 833.35,772.58 849,786.7C864.65,800.82 887.13,821.83 902.3,834.7C917.47,847.57 929.77,856.87 940,863.9C950.23,870.93 955.8,872.95 963.7,876.9C971.6,880.85 981.47,885.82 987.4,887.6C993.33,889.38 993.37,889.18 999.3,887.6C1005.23,886.02 1015.1,881.87 1023,878.1C1030.9,874.33 1038.8,869.95 1046.7,865C1054.6,860.05 1063.18,853.02 1070.4,848.4C1077.62,843.78 1081.55,842.52 1090,837.3C1098.45,832.08 1110.73,823.05 1121.1,817.1C1131.47,811.15 1141.83,806 1152.2,801.6C1162.57,797.2 1176.82,792.52 1183.3,790.7C1189.78,788.88 1189.8,790.7 1191.1,790.7C1194.98,789.4 1205.32,787.05 1214.4,782.9C1223.48,778.75 1235.22,773.07 1245.6,765.8C1255.98,758.53 1267.97,746.6 1276.7,739.3C1285.43,732 1294.45,724.88 1298,722"/><path d="M894,927C894.5,926.5 893.38,927.38 897,924C900.62,920.62 909.25,911.58 915.7,906.7C922.15,901.82 930.15,897.6 935.7,894.7C941.25,891.8 944.33,890.48 949,889.3C953.67,888.12 957.3,887 963.7,887.6C970.1,888.2 982.47,891.82 987.4,892.9C992.33,893.98 989.35,892.03 993.3,894.1C997.25,896.17 1004.38,900.47 1011.1,905.3C1017.82,910.13 1029.45,919.48 1033.6,923.1C1037.75,926.72 1035.6,926.35 1036,927"/><path d="M949,927C949.48,926.35 947.47,927.1 951.9,923.1C956.33,919.1 968.7,907.83 975.6,903C982.5,898.17 986.4,896.48 993.3,894.1C1000.2,891.72 1008.1,888.02 1017,888.7C1025.9,889.38 1037.8,894.05 1046.7,898.2C1055.6,902.35 1064.08,909.45 1070.4,913.6C1076.72,917.75 1081.5,920.87 1084.6,923.1C1087.7,925.33 1088.27,926.35 1089,927"/><path d="M1127,927C1127.57,926.45 1126.2,927.23 1130.4,923.7C1134.6,920.17 1144.67,910.6 1152.2,905.8C1159.73,901 1169.9,897.1 1175.6,894.9C1181.3,892.7 1183.55,892.87 1186.4,892.6C1189.25,892.33 1191.65,893.18 1192.7,893.3C1195.03,891.75 1201.78,889.18 1206.7,884C1211.62,878.82 1215.72,872.05 1222.2,862.2C1228.68,852.35 1239.12,835.78 1245.6,824.9C1252.08,814.02 1255.92,806.75 1261.1,796.9C1266.28,787.05 1272.03,774.88 1276.7,765.8C1281.37,756.72 1285.55,747.37 1289.1,742.4C1292.65,737.43 1296.52,737.07 1298,736"/></g><g clip-path="url(#ce)" fill="none" stroke="#8000ff" stroke-width="3.3" stroke-linejoin="round" stroke-linecap="butt"><path d="M185.3,1802.7C194.42,1802.65 212.37,1802.67 240,1802.4C267.63,1802.13 323.32,1801.68 351.1,1801.1C378.88,1800.52 391.88,1799.82 406.7,1798.9C421.52,1797.98 428.9,1796.9 440,1795.6C451.1,1794.3 462.18,1792.3 473.3,1791.1C484.42,1789.9 497.25,1788.77 506.7,1788.4C516.15,1788.03 518.72,1788.27 530,1788.9C541.28,1789.53 559.58,1790.65 574.4,1792.2C589.22,1793.75 605.93,1796.9 618.9,1798.2C631.87,1799.5 637.38,1799.77 652.2,1800C667.02,1800.23 691.13,1799.53 707.8,1799.6C724.47,1799.67 731.83,1800.25 752.2,1800.4C772.57,1800.55 781.7,1800.27 830,1800.5C878.3,1800.73 962.9,1801.58 1042,1801.8C1121.1,1802.02 1260.83,1801.8 1304.6,1801.8"/></g><g clip-path="url(#ce)" fill="none" stroke="#2b7ff6" stroke-width="3.3" stroke-linejoin="round" stroke-linecap="butt"><path d="M185.3,1782.1C186.92,1780.58 191.72,1776.35 195,1773C198.28,1769.65 202,1765.08 205,1762C208,1758.92 210.5,1756.18 213,1754.5C215.5,1752.82 217.5,1751.65 220,1751.9C222.5,1752.15 224.35,1751.95 228,1756C231.65,1760.05 238.05,1771.47 241.9,1776.2C245.75,1780.93 247.53,1782.02 251.1,1784.4C254.67,1786.78 259.6,1789.02 263.3,1790.5C267,1791.98 266.07,1792.27 273.3,1793.3C280.53,1794.33 293.73,1795.77 306.7,1796.7C319.67,1797.63 336.28,1798.53 351.1,1798.9C365.92,1799.27 382.63,1799.45 395.6,1798.9C408.57,1798.35 417.8,1796.72 428.9,1795.6C440,1794.48 451.08,1793.32 462.2,1792.2C473.32,1791.08 486.33,1789.63 495.6,1788.9C504.87,1788.17 512.07,1787.8 517.8,1787.8C523.53,1787.8 520.57,1788.35 530,1788.9C539.43,1789.45 559.58,1790.55 574.4,1791.1C589.22,1791.65 605.93,1791.93 618.9,1792.2C631.87,1792.47 640.35,1792.95 652.2,1792.7C664.05,1792.45 677.03,1790.67 690,1790.7C702.97,1790.73 715.93,1791.9 730,1792.9C744.07,1793.9 759.58,1795.52 774.4,1796.7C789.22,1797.88 800.18,1798.9 818.9,1800C837.62,1801.1 864.3,1802.85 886.7,1803.3C909.1,1803.75 927.42,1802.95 953.3,1802.7C979.18,1802.45 983.45,1801.95 1042,1801.8C1100.55,1801.65 1260.83,1801.8 1304.6,1801.8"/></g><g clip-path="url(#ce)" fill="none" stroke="#2adddd" stroke-width="3.3" stroke-linejoin="round" stroke-linecap="butt"><path d="M185.3,1725C186.92,1719.17 191.72,1703.33 195,1690C198.28,1676.67 202,1657.33 205,1645C208,1632.67 210.52,1622.05 213,1616C215.48,1609.95 217.9,1608.7 219.9,1608.7C221.9,1608.7 223.08,1611.08 225,1616C226.92,1620.92 228.98,1629.05 231.4,1638.2C233.82,1647.35 236.78,1659.72 239.5,1670.9C242.22,1682.08 244.7,1694.12 247.7,1705.3C250.7,1716.48 253.4,1729.28 257.5,1738C261.6,1746.72 265.95,1752.1 272.3,1757.6C278.65,1763.1 286.17,1766.53 295.6,1771C305.03,1775.47 317.8,1781.23 328.9,1784.4C340,1787.57 351.08,1788.7 362.2,1790C373.32,1791.3 384.48,1791.83 395.6,1792.2C406.72,1792.57 417.8,1793.12 428.9,1792.2C440,1791.28 452.95,1788.73 462.2,1786.7C471.45,1784.67 476.98,1781.48 484.4,1780C491.82,1778.52 499.1,1778.17 506.7,1777.8C514.3,1777.43 522.42,1777.62 530,1777.8C537.58,1777.98 542.93,1778.98 552.2,1778.9C561.47,1778.82 572.63,1778.05 585.6,1777.3C598.57,1776.55 617.78,1774.77 630,1774.4C642.22,1774.03 649.27,1775.47 658.9,1775.1C668.53,1774.73 679.65,1771.93 687.8,1772.2C695.95,1772.47 700.77,1774.67 707.8,1776.7C714.83,1778.73 722.6,1781.82 730,1784.4C737.4,1786.98 744.8,1789.97 752.2,1792.2C759.6,1794.43 766.98,1796.32 774.4,1797.8C781.82,1799.28 789.1,1800.37 796.7,1801.1C804.3,1801.83 812.42,1801.2 820,1802.2C827.58,1803.2 832.93,1806.1 842.2,1807.1C851.47,1808.1 863.75,1807.78 875.6,1808.2C887.45,1808.62 902.2,1809.78 913.3,1809.6C924.4,1809.42 931.82,1807.97 942.2,1807.1C952.58,1806.23 962.63,1805.03 975.6,1804.4C988.57,1803.77 999.27,1803.7 1020,1803.3C1040.73,1802.9 1052.57,1802.25 1100,1802C1147.43,1801.75 1270.5,1801.83 1304.6,1801.8"/></g><g clip-path="url(#ce)" fill="none" stroke="#80ffb4" stroke-width="3.3" stroke-linejoin="round" stroke-linecap="butt"><path d="M185.3,1648C186.92,1636.67 191.72,1606.33 195,1580C198.28,1553.67 202,1513.83 205,1490C208,1466.17 210.65,1448.43 213,1437C215.35,1425.57 217.43,1422.23 219.1,1421.4C220.77,1420.57 221.52,1425.57 223,1432C224.48,1438.43 226.33,1446.08 228,1460C229.67,1473.92 231.08,1495.35 233,1515.5C234.92,1535.65 237.32,1561.82 239.5,1580.9C241.68,1599.98 243.92,1615 246.1,1630C248.28,1645 250.15,1657.8 252.6,1670.9C255.05,1684 257.8,1698.23 260.8,1708.6C263.8,1718.97 266.78,1726.83 270.6,1733.1C274.42,1739.37 277.97,1742.12 283.7,1746.2C289.43,1750.28 297.47,1753.82 305,1757.6C312.53,1761.38 319.37,1765.17 328.9,1768.9C338.43,1772.63 351.08,1777.03 362.2,1780C373.32,1782.97 384.48,1785.22 395.6,1786.7C406.72,1788.18 417.8,1788.9 428.9,1788.9C440,1788.9 452.95,1789.12 462.2,1786.7C471.45,1784.28 476.98,1777.18 484.4,1774.4C491.82,1771.62 499.1,1771.1 506.7,1770C514.3,1768.9 522.42,1768.53 530,1767.8C537.58,1767.07 542.93,1767.08 552.2,1765.6C561.47,1764.12 576.33,1760.2 585.6,1758.9C594.87,1757.6 598.55,1758.73 607.8,1757.8C617.05,1756.87 631.85,1753.78 641.1,1753.3C650.35,1752.82 655.15,1755.27 663.3,1754.9C671.45,1754.53 682.58,1750.8 690,1751.1C697.42,1751.4 701.13,1753.37 707.8,1756.7C714.47,1760.03 722.6,1766.48 730,1771.1C737.4,1775.72 744.8,1780.52 752.2,1784.4C759.6,1788.28 766.98,1791.98 774.4,1794.4C781.82,1796.82 789.1,1797.23 796.7,1798.9C804.3,1800.57 810.57,1802 820,1804.4C829.43,1806.8 844.03,1811.73 853.3,1813.3C862.57,1814.87 868.18,1813.62 875.6,1813.8C883.02,1813.98 890.4,1814.03 897.8,1814.4C905.2,1814.77 912.6,1816.25 920,1816C927.4,1815.75 932.93,1814.27 942.2,1812.9C951.47,1811.53 962.63,1809.02 975.6,1807.8C988.57,1806.58 1003.33,1806.45 1020,1805.6C1036.67,1804.75 1053.93,1803.3 1075.6,1802.7C1097.27,1802.1 1111.83,1802.15 1150,1802C1188.17,1801.85 1278.83,1801.83 1304.6,1801.8"/></g><g clip-path="url(#ce)" fill="none" stroke="#d4dd80" stroke-width="3.3" stroke-linejoin="round" stroke-linecap="butt"><path d="M185.3,1550.5C187.07,1533.45 193.38,1475.67 195.9,1448.2C198.42,1420.73 198.77,1408.02 200.4,1385.7C202.03,1363.38 203.77,1338.1 205.7,1314.3C207.63,1290.5 210.45,1260.28 212,1242.9C213.55,1225.52 214.2,1216.85 215,1210C215.8,1203.15 216.13,1202.13 216.8,1201.8C217.47,1201.47 218.17,1204.13 219,1208C219.83,1211.87 220.58,1213.23 221.8,1225C223.02,1236.77 224.82,1257.77 226.3,1278.6C227.78,1299.43 229.07,1326.2 230.7,1350C232.33,1373.8 234.62,1403.07 236.1,1421.4C237.58,1439.73 238.2,1441.6 239.6,1460C241,1478.4 242.6,1506.2 244.5,1531.8C246.4,1557.4 248.83,1590.42 251,1613.6C253.17,1636.78 255.32,1655.9 257.5,1670.9C259.68,1685.9 261.63,1695.42 264.1,1703.6C266.57,1711.78 268.22,1715.35 272.3,1720C276.38,1724.65 283.15,1727.95 288.6,1731.5C294.05,1735.05 300.13,1738.4 305,1741.3C309.87,1744.2 311.97,1745.05 317.8,1748.9C323.63,1752.75 332.6,1759.77 340,1764.4C347.4,1769.03 352.93,1773.37 362.2,1776.7C371.47,1780.03 384.48,1782.73 395.6,1784.4C406.72,1786.07 417.8,1786.7 428.9,1786.7C440,1786.7 452.95,1786.63 462.2,1784.4C471.45,1782.17 476.98,1777.55 484.4,1773.3C491.82,1769.05 499.1,1762.05 506.7,1758.9C514.3,1755.75 522.42,1755.88 530,1754.4C537.58,1752.92 543.68,1752.58 552.2,1750C560.72,1747.42 573.68,1741.05 581.1,1738.9C588.52,1736.75 590.4,1737.4 596.7,1737.1C603,1736.8 610.75,1738.1 618.9,1737.1C627.05,1736.1 636.72,1731.55 645.6,1731.1C654.48,1730.65 663.68,1734.4 672.2,1734.4C680.72,1734.4 690.77,1730.9 696.7,1731.1C702.63,1731.3 702.25,1731.9 707.8,1735.6C713.35,1739.3 722.6,1747.02 730,1753.3C737.4,1759.58 744.8,1767.37 752.2,1773.3C759.6,1779.23 766.98,1785.38 774.4,1788.9C781.82,1792.42 790.03,1792.55 796.7,1794.4C803.37,1796.25 806.82,1796.67 814.4,1800C821.98,1803.33 833.87,1811.25 842.2,1814.4C850.53,1817.55 856.98,1818.33 864.4,1818.9C871.82,1819.47 879.28,1817.62 886.7,1817.8C894.12,1817.98 902.23,1819.33 908.9,1820C915.57,1820.67 919.3,1822.53 926.7,1821.8C934.1,1821.07 945.15,1817.57 953.3,1815.6C961.45,1813.63 966.33,1811.3 975.6,1810C984.87,1808.7 997.8,1808.43 1008.9,1807.8C1020,1807.17 1031.08,1807.05 1042.2,1806.2C1053.32,1805.35 1031.87,1803.43 1075.6,1802.7C1119.33,1801.97 1266.43,1801.95 1304.6,1801.8"/></g><g clip-path="url(#ce)" fill="none" stroke="#ff7f42" stroke-width="3.3" stroke-linejoin="round" stroke-linecap="butt"><path d="M185.3,1477C186.08,1462.1 187.75,1430.7 190,1387.6C192.25,1344.5 196,1263.13 198.8,1218.4C201.6,1173.67 204.6,1143.1 206.8,1119.2C209,1095.3 210.65,1084 212,1075C213.35,1066 213.9,1064.7 214.9,1065.2C215.9,1065.7 217.15,1072.2 218,1078C218.85,1083.8 219.07,1084.43 220,1100C220.93,1115.57 222.27,1147.58 223.6,1171.4C224.93,1195.22 226.67,1219.08 228,1242.9C229.33,1266.72 230.4,1290.5 231.6,1314.3C232.8,1338.1 234,1361.42 235.2,1385.7C236.4,1409.98 237.93,1438.37 238.8,1460C239.67,1481.63 239.45,1495.35 240.4,1515.5C241.35,1535.65 243,1559.08 244.5,1580.9C246,1602.72 247.5,1627.3 249.4,1646.4C251.3,1665.5 253.72,1681.87 255.9,1695.5C258.08,1709.13 260.58,1720.02 262.5,1728.2C264.42,1736.38 265.5,1742.42 267.4,1744.6C269.3,1746.78 271.18,1742.95 273.9,1741.3C276.62,1739.65 279.88,1736.07 283.7,1734.7C287.52,1733.33 292.97,1732.77 296.8,1733.1C300.63,1733.43 301.35,1733.33 306.7,1736.7C312.05,1740.07 321.5,1747.93 328.9,1753.3C336.3,1758.67 343.7,1764.82 351.1,1768.9C358.5,1772.98 365.88,1775.58 373.3,1777.8C380.72,1780.02 388.18,1781.28 395.6,1782.2C403.02,1783.12 410.4,1782.93 417.8,1783.3C425.2,1783.67 432.6,1784.22 440,1784.4C447.4,1784.58 455.53,1785.13 462.2,1784.4C468.87,1783.67 474.43,1782.95 480,1780C485.57,1777.05 489.3,1771.88 495.6,1766.7C501.9,1761.52 512.07,1752.8 517.8,1748.9C523.53,1745 524.27,1745.15 530,1743.3C535.73,1741.45 544.8,1740.95 552.2,1737.8C559.6,1734.65 567.73,1727.92 574.4,1724.4C581.07,1720.88 587.38,1718.17 592.2,1716.7C597.02,1715.23 598.12,1715.6 603.3,1715.6C608.48,1715.6 617.73,1717 623.3,1716.7C628.87,1716.4 631.88,1714.98 636.7,1713.8C641.52,1712.62 647.77,1710.05 652.2,1709.6C656.63,1709.15 658.48,1709.88 663.3,1711.1C668.12,1712.32 674.8,1716.42 681.1,1716.9C687.4,1717.38 695.92,1713.67 701.1,1714C706.28,1714.33 707.38,1714.93 712.2,1718.9C717.02,1722.87 723.33,1730.22 730,1737.8C736.67,1745.38 744.8,1757.37 752.2,1764.4C759.6,1771.43 766.98,1776.1 774.4,1780C781.82,1783.9 790.4,1785.58 796.7,1787.8C803,1790.02 808.32,1791.27 812.2,1793.3C816.08,1795.33 815,1796.67 820,1800C825,1803.33 834.8,1809.6 842.2,1813.3C849.6,1817 856.98,1820.9 864.4,1822.2C871.82,1823.5 879.28,1820.92 886.7,1821.1C894.12,1821.28 901.5,1822.45 908.9,1823.3C916.3,1824.15 923.7,1826.57 931.1,1826.2C938.5,1825.83 945.88,1823.25 953.3,1821.1C960.72,1818.95 968.18,1815.15 975.6,1813.3C983.02,1811.45 990.4,1810.37 997.8,1810C1005.2,1809.63 1012.6,1811.28 1020,1811.1C1027.4,1810.92 1034.8,1810.02 1042.2,1808.9C1049.6,1807.78 1056.98,1805.43 1064.4,1804.4C1071.82,1803.37 1077.43,1802.77 1086.7,1802.7C1095.97,1802.63 1106.12,1804.07 1120,1804C1133.88,1803.93 1139.23,1802.67 1170,1802.3C1200.77,1801.93 1282.17,1801.88 1304.6,1801.8"/></g><g clip-path="url(#ce)" fill="none" stroke="#ff0000" stroke-width="3.3" stroke-linejoin="round" stroke-linecap="butt"><path d="M185.3,1423C185.92,1407.5 187.4,1364.1 189,1330C190.6,1295.9 192.77,1253.53 194.9,1218.4C197.03,1183.27 199.95,1143.1 201.8,1119.2C203.65,1095.3 204.73,1084.92 206,1075C207.27,1065.08 208.23,1059.2 209.4,1059.7C210.57,1060.2 212.13,1071.28 213,1078C213.87,1084.72 213.73,1084.43 214.6,1100C215.47,1115.57 217,1147.58 218.2,1171.4C219.4,1195.22 220.75,1219.08 221.8,1242.9C222.85,1266.72 223.62,1290.5 224.5,1314.3C225.38,1338.1 226.22,1361.42 227.1,1385.7C227.98,1409.98 229.08,1435.65 229.8,1460C230.52,1484.35 230.6,1506.2 231.4,1531.8C232.2,1557.4 233.52,1589.05 234.6,1613.6C235.68,1638.15 236.93,1658.03 237.9,1679.1C238.87,1700.17 239.63,1724.07 240.4,1740C241.17,1755.93 241.8,1764.28 242.5,1774.7C243.2,1785.12 243.67,1793.23 244.6,1802.5C245.53,1811.77 246.83,1821.62 248.1,1830.3C249.37,1838.98 250.77,1848.23 252.2,1854.6C253.63,1860.97 255.18,1867.93 256.7,1868.5C258.22,1869.07 259.62,1863.22 261.3,1858C262.98,1852.78 264.85,1845.3 266.8,1837.2C268.75,1829.1 271.03,1817.5 273,1809.4C274.97,1801.3 276.5,1794.95 278.6,1788.6C280.7,1782.25 283.7,1775.47 285.6,1771.3C287.5,1767.13 288.33,1765.85 290,1763.6C291.67,1761.35 292.82,1759.7 295.6,1757.8C298.38,1755.9 301.15,1751.47 306.7,1752.2C312.25,1752.93 321.5,1758.68 328.9,1762.2C336.3,1765.72 343.7,1770.33 351.1,1773.3C358.5,1776.27 365.88,1778.52 373.3,1780C380.72,1781.48 388.18,1781.83 395.6,1782.2C403.02,1782.57 410.4,1782.93 417.8,1782.2C425.2,1781.47 432.6,1780.02 440,1777.8C447.4,1775.58 454.8,1772.05 462.2,1768.9C469.6,1765.75 478.1,1761.68 484.4,1758.9C490.7,1756.12 494.43,1755.35 500,1752.2C505.57,1749.05 512.98,1743.33 517.8,1740C522.62,1736.67 525.02,1734.23 528.9,1732.2C532.78,1730.17 536.47,1728.9 541.1,1727.8C545.73,1726.7 552.25,1726.9 556.7,1725.6C561.15,1724.3 562.98,1723.53 567.8,1720C572.62,1716.47 580.78,1708.47 585.6,1704.4C590.42,1700.33 593,1697.73 596.7,1695.6C600.4,1693.47 602.25,1691.98 607.8,1691.6C613.35,1691.22 624.45,1693.08 630,1693.3C635.55,1693.52 635.92,1693.72 641.1,1692.9C646.28,1692.08 655.92,1688.52 661.1,1688.4C666.28,1688.28 668.12,1690.33 672.2,1692.2C676.28,1694.07 681.9,1698.12 685.6,1699.6C689.3,1701.08 690.7,1701.1 694.4,1701.1C698.1,1701.1 703.72,1699.23 707.8,1699.6C711.88,1699.97 715.2,1701.02 718.9,1703.3C722.6,1705.58 724.45,1706.82 730,1713.3C735.55,1719.78 744.8,1732.93 752.2,1742.2C759.6,1751.47 768.1,1762.97 774.4,1768.9C780.7,1774.83 785.18,1775.95 790,1777.8C794.82,1779.65 799.23,1778.9 803.3,1780C807.37,1781.1 811.62,1783.1 814.4,1784.4C817.18,1785.7 815.37,1784.08 820,1787.8C824.63,1791.52 834.8,1800.78 842.2,1806.7C849.6,1812.62 858.83,1820.27 864.4,1823.3C869.97,1826.33 870.03,1824.97 875.6,1824.9C881.17,1824.83 890.4,1822.6 897.8,1822.9C905.2,1823.2 913.7,1825.7 920,1826.7C926.3,1827.7 930.05,1829.08 935.6,1828.9C941.15,1828.72 946.63,1827.63 953.3,1825.6C959.97,1823.57 968.18,1818.93 975.6,1816.7C983.02,1814.47 990.4,1812.68 997.8,1812.2C1005.2,1811.72 1014.45,1813.43 1020,1813.8C1025.55,1814.17 1025.55,1815.03 1031.1,1814.4C1036.65,1813.77 1045.88,1811.67 1053.3,1810C1060.72,1808.33 1070.03,1805.47 1075.6,1804.4C1081.17,1803.33 1082.63,1803.62 1086.7,1803.6C1090.77,1803.58 1093.9,1803.78 1100,1804.3C1106.1,1804.82 1116.82,1806.57 1123.3,1806.7C1129.78,1806.83 1131.12,1805.8 1138.9,1805.1C1146.68,1804.4 1149.27,1802.88 1170,1802.5C1190.73,1802.12 1240.87,1802.93 1263.3,1802.8C1285.73,1802.67 1297.72,1801.88 1304.6,1801.7"/></g><g><line x1="830" y1="260.7" x2="830" y2="167.4" stroke="#ff2600" stroke-width="3"/><path d="M822.2,167.9 L837.8,167.9 L830,152.7 Z" fill="#ff2600"/><line x1="841.3" y1="130.8" x2="841.3" y2="212.8" stroke="#ff2600" stroke-width="3"/><path d="M833.5,212.3 L849.1,212.3 L841.3,227.5 Z" fill="#ff2600"/><line x1="881.8" y1="272.5" x2="881.8" y2="222.4" stroke="#ff2600" stroke-width="3"/><path d="M874,222.9 L889.6,222.9 L881.8,207.7 Z" fill="#ff2600"/><line x1="892.8" y1="199.4" x2="892.8" y2="205.1" stroke="#ff2600" stroke-width="3"/><path d="M885,204.6 L900.6,204.6 L892.8,219.8 Z" fill="#ff2600"/><line x1="927.5" y1="362.4" x2="927.5" y2="216.7" stroke="#ff2600" stroke-width="3"/><path d="M919.7,217.2 L935.3,217.2 L927.5,202 Z" fill="#ff2600"/><line x1="918.5" y1="288.3" x2="918.5" y2="353.4" stroke="#ff2600" stroke-width="3"/><path d="M910.7,352.9 L926.3,352.9 L918.5,368.1 Z" fill="#ff2600"/><line x1="1065.1" y1="284.1" x2="1065.1" y2="368" stroke="#ff2600" stroke-width="3"/><path d="M1057.3,367.5 L1072.9,367.5 L1065.1,382.7 Z" fill="#ff2600"/><line x1="1075" y1="388.4" x2="1075" y2="216.7" stroke="#ff2600" stroke-width="3"/><path d="M1067.2,217.2 L1082.8,217.2 L1075,202 Z" fill="#ff2600"/><line x1="1130.1" y1="265.8" x2="1130.1" y2="104.3" stroke="#ff2600" stroke-width="3"/><path d="M1122.3,104.8 L1137.9,104.8 L1130.1,89.6 Z" fill="#ff2600"/><line x1="1139.1" y1="81.3" x2="1139.1" y2="201.6" stroke="#ff2600" stroke-width="3"/><path d="M1131.3,201.1 L1146.9,201.1 L1139.1,216.3 Z" fill="#ff2600"/><line x1="1198.3" y1="264.9" x2="1198.3" y2="270.3" stroke="#ff2600" stroke-width="3"/><path d="M1190.5,269.8 L1206.1,269.8 L1198.3,285 Z" fill="#ff2600"/><line x1="1209.2" y1="277.9" x2="1209.2" y2="241.4" stroke="#ff2600" stroke-width="3"/><path d="M1201.4,241.9 L1217,241.9 L1209.2,226.7 Z" fill="#ff2600"/><line x1="993.3" y1="208.2" x2="993.3" y2="197.4" stroke="#ff8c00" stroke-width="4.7"/><path d="M983.9,197.9 L1002.7,197.9 L993.3,179.2 Z" fill="#ff8c00"/><line x1="993.3" y1="272.0" x2="993.3" y2="313.7" stroke="#ff8c00" stroke-width="4.7"/></g><rect x="181" y="34.2" width="531.9" height="423.5" fill="none" stroke="#000" stroke-width="1.7"/><rect x="768.9" y="34.2" width="531.9" height="423.5" fill="none" stroke="#000" stroke-width="1.7"/><rect x="181" y="500.3" width="531.9" height="423.6" fill="none" stroke="#000" stroke-width="1.7"/><rect x="768.9" y="500.3" width="531.9" height="423.6" fill="none" stroke="#000" stroke-width="1.7"/><rect x="185.3" y="1019.3" width="1119.3" height="889.3" fill="none" stroke="#000" stroke-width="1.7"/><g stroke="#000" stroke-width="1.7"><line x1="174" y1="69.6" x2="181" y2="69.6"/><line x1="174" y1="157.8" x2="181" y2="157.8"/><line x1="174" y1="246" x2="181" y2="246"/><line x1="174" y1="334.2" x2="181" y2="334.2"/><line x1="174" y1="422.4" x2="181" y2="422.4"/><line x1="761.9" y1="69.6" x2="768.9" y2="69.6"/><line x1="761.9" y1="157.8" x2="768.9" y2="157.8"/><line x1="761.9" y1="246" x2="768.9" y2="246"/><line x1="761.9" y1="334.2" x2="768.9" y2="334.2"/><line x1="761.9" y1="422.4" x2="768.9" y2="422.4"/><line x1="174" y1="535.6" x2="181" y2="535.6"/><line x1="174" y1="623.8" x2="181" y2="623.8"/><line x1="174" y1="712" x2="181" y2="712"/><line x1="174" y1="800.2" x2="181" y2="800.2"/><line x1="174" y1="888.4" x2="181" y2="888.4"/><line x1="761.9" y1="535.6" x2="768.9" y2="535.6"/><line x1="761.9" y1="623.8" x2="768.9" y2="623.8"/><line x1="761.9" y1="712" x2="768.9" y2="712"/><line x1="761.9" y1="800.2" x2="768.9" y2="800.2"/><line x1="761.9" y1="888.4" x2="768.9" y2="888.4"/><line x1="181" y1="457.7" x2="181" y2="464.7"/><line x1="407" y1="457.7" x2="407" y2="464.7"/><line x1="599.6" y1="457.7" x2="599.6" y2="464.7"/><line x1="712.9" y1="457.7" x2="712.9" y2="464.7"/><line x1="768.9" y1="457.7" x2="768.9" y2="464.7"/><line x1="994.9" y1="457.7" x2="994.9" y2="464.7"/><line x1="1187.5" y1="457.7" x2="1187.5" y2="464.7"/><line x1="1300.8" y1="457.7" x2="1300.8" y2="464.7"/><line x1="181" y1="923.9" x2="181" y2="930.9"/><line x1="407" y1="923.9" x2="407" y2="930.9"/><line x1="599.6" y1="923.9" x2="599.6" y2="930.9"/><line x1="712.9" y1="923.9" x2="712.9" y2="930.9"/><line x1="768.9" y1="923.9" x2="768.9" y2="930.9"/><line x1="994.9" y1="923.9" x2="994.9" y2="930.9"/><line x1="1187.5" y1="923.9" x2="1187.5" y2="930.9"/><line x1="1300.8" y1="923.9" x2="1300.8" y2="930.9"/><line x1="178.3" y1="1802.7" x2="185.3" y2="1802.7"/><line x1="178.3" y1="1675.2" x2="185.3" y2="1675.2"/><line x1="178.3" y1="1547.7" x2="185.3" y2="1547.7"/><line x1="178.3" y1="1420.2" x2="185.3" y2="1420.2"/><line x1="178.3" y1="1292.7" x2="185.3" y2="1292.7"/><line x1="178.3" y1="1165.2" x2="185.3" y2="1165.2"/><line x1="178.3" y1="1037.7" x2="185.3" y2="1037.7"/><line x1="185.3" y1="1908.6" x2="185.3" y2="1915.6"/><line x1="325.21" y1="1908.6" x2="325.21" y2="1915.6"/><line x1="465.12" y1="1908.6" x2="465.12" y2="1915.6"/><line x1="605.03" y1="1908.6" x2="605.03" y2="1915.6"/><line x1="744.94" y1="1908.6" x2="744.94" y2="1915.6"/><line x1="884.85" y1="1908.6" x2="884.85" y2="1915.6"/><line x1="1024.76" y1="1908.6" x2="1024.76" y2="1915.6"/><line x1="1164.67" y1="1908.6" x2="1164.67" y2="1915.6"/><line x1="1304.58" y1="1908.6" x2="1304.58" y2="1915.6"/></g><g font-family="&quot;Liberation Sans&quot;, sans-serif"><text transform="translate(91.11,84.77) scale(1.06,1)" font-size="42.54" fill="#000" stroke="#000" stroke-width="0.55">100</text><text transform="translate(91.11,550.77) scale(1.06,1)" font-size="42.54" fill="#000" stroke="#000" stroke-width="0.55">100</text><text transform="translate(117.75,172.97) scale(1.03,1)" font-size="42.54" fill="#000" stroke="#000" stroke-width="0.55">50</text><text transform="translate(117.75,638.97) scale(1.03,1)" font-size="42.54" fill="#000" stroke="#000" stroke-width="0.55">50</text><text transform="translate(142.82,261.17) scale(0.99,1)" font-size="42.54" fill="#000" stroke="#000" stroke-width="0.55">0</text><text transform="translate(142.82,727.17) scale(0.99,1)" font-size="42.54" fill="#000" stroke="#000" stroke-width="0.55">0</text><text transform="translate(101.48,349.37) scale(1.05,1)" font-size="42.54" fill="#000" stroke="#000" stroke-width="0.55">-50</text><text transform="translate(101.48,815.37) scale(1.05,1)" font-size="42.54" fill="#000" stroke="#000" stroke-width="0.55">-50</text><text transform="translate(76.48,437.57) scale(1.06,1)" font-size="42.54" fill="#000" stroke="#000" stroke-width="0.55">-100</text><text transform="translate(76.48,903.57) scale(1.06,1)" font-size="42.54" fill="#000" stroke="#000" stroke-width="0.55">-100</text><text transform="translate(147.62,1818.07) scale(0.99,1)" font-size="42.68" fill="#000" stroke="#000" stroke-width="0.55">0</text><text transform="translate(96.51,1690.57) scale(1.05,1)" font-size="42.68" fill="#000" stroke="#000" stroke-width="0.55">500</text><text transform="translate(70.92,1563.07) scale(1.06,1)" font-size="42.68" fill="#000" stroke="#000" stroke-width="0.55">1000</text><text transform="translate(70.92,1435.57) scale(1.06,1)" font-size="42.68" fill="#000" stroke="#000" stroke-width="0.55">1500</text><text transform="translate(71.05,1308.07) scale(1.05,1)" font-size="42.68" fill="#000" stroke="#000" stroke-width="0.55">2000</text><text transform="translate(71.05,1180.57) scale(1.05,1)" font-size="42.68" fill="#000" stroke="#000" stroke-width="0.55">2500</text><text transform="translate(71.51,1053.07) scale(1.05,1)" font-size="42.68" fill="#000" stroke="#000" stroke-width="0.55">3000</text><text transform="translate(173.62,1953.38) scale(1,1)" font-size="41.97" fill="#000" stroke="#000" stroke-width="0.55">0</text><text transform="translate(299.89,1953.38) scale(1.05,1)" font-size="41.97" fill="#000" stroke="#000" stroke-width="0.55">10</text><text transform="translate(440.41,1953.38) scale(1.05,1)" font-size="41.97" fill="#000" stroke="#000" stroke-width="0.55">20</text><text transform="translate(580.78,1953.38) scale(1.04,1)" font-size="41.97" fill="#000" stroke="#000" stroke-width="0.55">30</text><text transform="translate(720.84,1953.38) scale(1.05,1)" font-size="41.97" fill="#000" stroke="#000" stroke-width="0.55">40</text><text transform="translate(860.6,1953.38) scale(1.04,1)" font-size="41.97" fill="#000" stroke="#000" stroke-width="0.55">50</text><text transform="translate(1000.05,1953.38) scale(1.05,1)" font-size="41.97" fill="#000" stroke="#000" stroke-width="0.55">60</text><text transform="translate(1139.96,1953.38) scale(1.05,1)" font-size="41.97" fill="#000" stroke="#000" stroke-width="0.55">70</text><text transform="translate(1280.1,1953.38) scale(1.05,1)" font-size="41.97" fill="#000" stroke="#000" stroke-width="0.55">80</text><text transform="translate(169.79,968.9) scale(0.93,1)" font-size="43.96" font-style="italic" fill="#000" stroke="#000" stroke-width="0.55">κ</text><text transform="translate(757.69,968.9) scale(0.93,1)" font-size="43.96" font-style="italic" fill="#000" stroke="#000" stroke-width="0.55">κ</text><text transform="translate(395.9,966.9) scale(1.07,1)" font-size="42.45" font-style="italic" fill="#000" stroke="#000" stroke-width="0.55">γ</text><text transform="translate(983.8,966.9) scale(1.07,1)" font-size="42.45" font-style="italic" fill="#000" stroke="#000" stroke-width="0.55">γ</text><text transform="translate(587.08,967.08) scale(0.98,1)" font-size="44.86" font-style="italic" fill="#000" stroke="#000" stroke-width="0.55">μ</text><text transform="translate(1174.98,967.08) scale(0.98,1)" font-size="44.86" font-style="italic" fill="#000" stroke="#000" stroke-width="0.55">μ</text><text transform="translate(694.91,968.9) scale(0.99,1)" font-size="46.67" font-style="italic" fill="#000" stroke="#000" stroke-width="0.55">κ′</text><text transform="translate(1282.81,968.9) scale(0.99,1)" font-size="46.67" font-style="italic" fill="#000" stroke="#000" stroke-width="0.55">κ′</text><text transform="translate(29.99,48.97) scale(1.16,1)" font-size="38.72" fill="#000" stroke="#000" stroke-width="0.55">a)</text><text transform="translate(720.34,48.97) scale(1.18,1)" font-size="38.72" fill="#000" stroke="#000" stroke-width="0.55">b)</text><text transform="translate(29.97,507.91) scale(1.17,1)" font-size="38.5" fill="#000" stroke="#000" stroke-width="0.55">c)</text><text transform="translate(720.28,507.91) scale(1.18,1)" font-size="38.5" fill="#000" stroke="#000" stroke-width="0.55">d)</text><text transform="translate(29.77,1014.67) scale(1.16,1)" font-size="38.72" fill="#000" stroke="#000" stroke-width="0.55">e)</text><text transform="translate(622.94,66.9) scale(1.07,1)" font-size="40.28" fill="#000" stroke="#000" stroke-width="0.55">T2G</text><text transform="translate(1211.15,76.98) scale(1.01,1)" font-size="41.97" fill="#000" stroke="#000" stroke-width="0.55">T5G</text><text transform="translate(622.74,534.19) scale(1.06,1)" font-size="40.85" fill="#000" stroke="#000" stroke-width="0.55">T7G</text><text transform="translate(1210.65,534.19) scale(1.04,1)" font-size="40.85" fill="#000" stroke="#000" stroke-width="0.55">T8G</text><text transform="translate(59.47,384.07) rotate(-90) scale(1.1,1)" font-size="40.64" fill="#000" stroke="#000" stroke-width="0.55">Energy (meV)</text><text transform="translate(59.47,850.17) rotate(-90) scale(1.1,1)" font-size="40.64" fill="#000" stroke="#000" stroke-width="0.55">Energy (meV)</text><text transform="translate(45.67,1624.85) rotate(-90) scale(0.96,1)" font-size="43.15" font-style="italic" fill="#000" stroke="#000" stroke-width="0.55">σ</text><text transform="translate(51.46,1598.35) rotate(-90) scale(1.08,1)" font-size="28.78" font-style="italic" fill="#000" stroke="#000" stroke-width="0.55">xxy</text><text transform="translate(42.86,1534.72) rotate(-90) scale(0.86,1)" font-size="39.25" fill="#000" stroke="#000" stroke-width="0.55">(</text><text transform="translate(45.9,1519.95) rotate(-90) scale(0.99,1)" font-size="42.64" font-style="italic" fill="#000" stroke="#000" stroke-width="0.55">μ</text><text transform="translate(46.1,1495.02) rotate(-90) scale(0.9,1)" font-size="43.77" font-style="italic" fill="#000" stroke="#000" stroke-width="0.55">A</text><text transform="translate(45.8,1468.06) rotate(-90) scale(0.89,1)" font-size="53.33" fill="#000" stroke="#000" stroke-width="0.55">.</text><text transform="translate(46,1446.67) rotate(-90) scale(1.01,1)" font-size="43.89" font-style="italic" fill="#000" stroke="#000" stroke-width="0.55">n</text><text transform="translate(46,1421.39) rotate(-90) scale(1.05,1)" font-size="43.89" font-style="italic" fill="#000" stroke="#000" stroke-width="0.55">m</text><text transform="translate(48.45,1382.7) rotate(-90) scale(1.1,1)" font-size="44.76" fill="#000" stroke="#000" stroke-width="0.55">/</text><text transform="translate(46,1369.21) rotate(-90) scale(0.92,1)" font-size="43.48" font-style="italic" fill="#000" stroke="#000" stroke-width="0.55">V</text><text transform="translate(29.9,1338.73) rotate(-90) scale(1.02,1)" font-size="30" fill="#000" stroke="#000" stroke-width="0.55">2</text><text transform="translate(42.76,1317.25) rotate(-90) scale(0.9,1)" font-size="39.25" fill="#000" stroke="#000" stroke-width="0.55">)</text><text transform="translate(661.02,1997.86) scale(1.16,1)" font-size="38.29" fill="#000" stroke="#000" stroke-width="0.55">ω (meV)</text><text transform="translate(1147.8,161.61) scale(1.03,1)" font-size="39.05" fill="#ff2600" stroke="#ff2600" stroke-width="0">Virtual</text><text transform="translate(945.72,255.39) scale(0.98,1)" font-size="40.54" fill="#ff8c00" stroke="#ff8c00" stroke-width="0">Direct</text></g><rect x="905.8" y="1039.3" width="378.4" height="423.7" rx="6" ry="6" fill="#fff" fill-opacity="0.8" stroke="#cccccc" stroke-width="2"/><line x1="919.8" y1="1071.5" x2="1003.3" y2="1071.5" stroke="#8000ff" stroke-width="3"/><line x1="919.8" y1="1130.4" x2="1003.3" y2="1130.4" stroke="#2b7ff6" stroke-width="3"/><line x1="919.8" y1="1189.3" x2="1003.3" y2="1189.3" stroke="#2adddd" stroke-width="3"/><line x1="919.8" y1="1248.2" x2="1003.3" y2="1248.2" stroke="#80ffb4" stroke-width="3"/><line x1="919.8" y1="1307.1" x2="1003.3" y2="1307.1" stroke="#d4dd80" stroke-width="3"/><line x1="919.8" y1="1366" x2="1003.3" y2="1366" stroke="#ff7f42" stroke-width="3"/><line x1="919.8" y1="1424.9" x2="1003.3" y2="1424.9" stroke="#ff0000" stroke-width="3"/><g font-family="&quot;Liberation Sans&quot;, sans-serif"><text transform="translate(1032.15,1085.27) scale(0.94,1)" font-size="43.29" font-style="italic" fill="#000" stroke="#000" stroke-width="0.55">U</text><text transform="translate(1071.04,1087.78) scale(1.12,1)" font-size="47.5" fill="#000" stroke="#000" stroke-width="0.55">=</text><text transform="translate(1112.96,1085.27) scale(1.02,1)" font-size="42.68" fill="#000" stroke="#000" stroke-width="0.55">0</text><text transform="translate(1149.82,1085.27) scale(1.02,1)" font-size="43.29" fill="#000" stroke="#000" stroke-width="0.55">meV</text><text transform="translate(1032.15,1144.17) scale(0.94,1)" font-size="43.29" font-style="italic" fill="#000" stroke="#000" stroke-width="0.55">U</text><text transform="translate(1071.04,1146.68) scale(1.12,1)" font-size="47.5" fill="#000" stroke="#000" stroke-width="0.55">=</text><text transform="translate(1112.96,1144.17) scale(1.01,1)" font-size="43.29" fill="#000" stroke="#000" stroke-width="0.55">5</text><text transform="translate(1149.82,1144.17) scale(1.02,1)" font-size="43.29" fill="#000" stroke="#000" stroke-width="0.55">meV</text><text transform="translate(1032.15,1203.07) scale(0.94,1)" font-size="43.29" font-style="italic" fill="#000" stroke="#000" stroke-width="0.55">U</text><text transform="translate(1071.04,1205.58) scale(1.12,1)" font-size="47.5" fill="#000" stroke="#000" stroke-width="0.55">=</text><text transform="translate(1111.26,1203.07) scale(1.07,1)" font-size="42.68" fill="#000" stroke="#000" stroke-width="0.55">10</text><text transform="translate(1175.62,1203.07) scale(1.03,1)" font-size="43.29" fill="#000" stroke="#000" stroke-width="0.55">meV</text><text transform="translate(1032.15,1261.97) scale(0.94,1)" font-size="43.29" font-style="italic" fill="#000" stroke="#000" stroke-width="0.55">U</text><text transform="translate(1071.04,1264.48) scale(1.12,1)" font-size="47.5" fill="#000" stroke="#000" stroke-width="0.55">=</text><text transform="translate(1111.26,1261.97) scale(1.06,1)" font-size="43.29" fill="#000" stroke="#000" stroke-width="0.55">15</text><text transform="translate(1175.62,1261.97) scale(1.03,1)" font-size="43.29" fill="#000" stroke="#000" stroke-width="0.55">meV</text><text transform="translate(1032.15,1320.87) scale(0.94,1)" font-size="43.29" font-style="italic" fill="#000" stroke="#000" stroke-width="0.55">U</text><text transform="translate(1071.04,1323.38) scale(1.12,1)" font-size="47.5" fill="#000" stroke="#000" stroke-width="0.55">=</text><text transform="translate(1112.46,1320.87) scale(1.05,1)" font-size="42.68" fill="#000" stroke="#000" stroke-width="0.55">20</text><text transform="translate(1175.62,1320.87) scale(1.03,1)" font-size="43.29" fill="#000" stroke="#000" stroke-width="0.55">meV</text><text transform="translate(1032.15,1379.77) scale(0.94,1)" font-size="43.29" font-style="italic" fill="#000" stroke="#000" stroke-width="0.55">U</text><text transform="translate(1071.04,1382.28) scale(1.12,1)" font-size="47.5" fill="#000" stroke="#000" stroke-width="0.55">=</text><text transform="translate(1112.46,1379.77) scale(1.05,1)" font-size="42.68" fill="#000" stroke="#000" stroke-width="0.55">25</text><text transform="translate(1175.62,1379.77) scale(1.03,1)" font-size="43.29" fill="#000" stroke="#000" stroke-width="0.55">meV</text><text transform="translate(1032.15,1438.67) scale(0.94,1)" font-size="43.29" font-style="italic" fill="#000" stroke="#000" stroke-width="0.55">U</text><text transform="translate(1071.04,1441.18) scale(1.12,1)" font-size="47.5" fill="#000" stroke="#000" stroke-width="0.55">=</text><text transform="translate(1112.93,1438.67) scale(1.04,1)" font-size="42.68" fill="#000" stroke="#000" stroke-width="0.55">30</text><text transform="translate(1175.62,1438.67) scale(1.03,1)" font-size="43.29" fill="#000" stroke="#000" stroke-width="0.55">meV</text></g></svg></body></html>
